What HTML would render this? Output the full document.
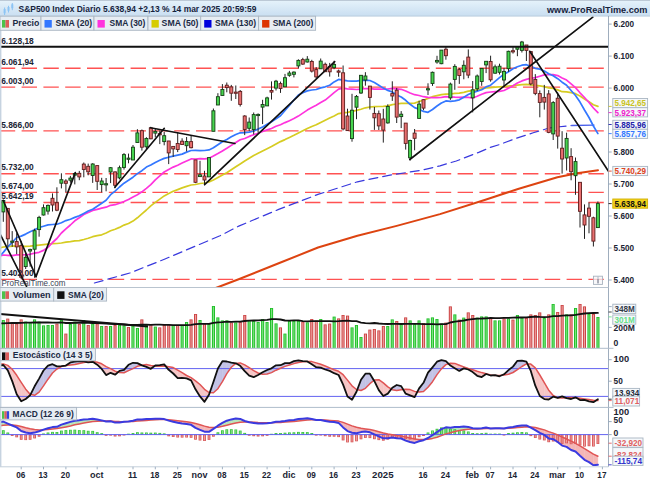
<!DOCTYPE html><html><head><meta charset="utf-8"><title>S&amp;P500</title><style>html,body{margin:0;padding:0;background:#fff;overflow:hidden}svg{display:block}text{font-family:"Liberation Sans",sans-serif}</style></head><body><svg width="650" height="483" viewBox="0 0 650 483"><rect x="0" y="0" width="650" height="483" fill="#ffffff"/>
<defs><linearGradient id="hg" x1="0" y1="0" x2="0" y2="1"><stop offset="0" stop-color="#e6f3fb"/><stop offset="1" stop-color="#c9def1"/></linearGradient><clipPath id="cp"><rect x="0" y="16.5" width="608.0" height="271.0"/></clipPath><clipPath id="cv"><rect x="0" y="301.5" width="608.0" height="46.80000000000001"/></clipPath><clipPath id="cs"><rect x="0" y="348.8" width="608.0" height="58.099999999999966"/></clipPath><clipPath id="cm"><rect x="0" y="407.9" width="608.0" height="58.400000000000034"/></clipPath></defs>
<rect x="0" y="0" width="650" height="16.2" fill="url(#hg)"/>
<rect x="0" y="15.6" width="650" height="0.9" fill="#b9cbdc"/>
<rect x="0" y="0" width="650" height="0.9" fill="#b7c5d2"/>
<g clip-path="url(#cp)">
<line x1="-0.2" y1="68.3" x2="608.5" y2="68.3" stroke="#ff5252" stroke-width="1.4" stroke-dasharray="15.4 6.4"/>
<line x1="-0.2" y1="87.1" x2="608.5" y2="87.1" stroke="#ff5252" stroke-width="1.4" stroke-dasharray="15.4 6.4"/>
<line x1="-0.2" y1="130.9" x2="608.5" y2="130.9" stroke="#ff5252" stroke-width="1.4" stroke-dasharray="15.4 6.4"/>
<line x1="-0.2" y1="173.8" x2="608.5" y2="173.8" stroke="#ff5252" stroke-width="1.4" stroke-dasharray="15.4 6.4"/>
<line x1="-0.2" y1="192.4" x2="608.5" y2="192.4" stroke="#ff5252" stroke-width="1.4" stroke-dasharray="15.4 6.4"/>
<line x1="-0.2" y1="202.5" x2="608.5" y2="202.5" stroke="#ff5252" stroke-width="1.4" stroke-dasharray="15.4 6.4"/>
<line x1="-0.2" y1="279.4" x2="608.5" y2="279.4" stroke="#ff5252" stroke-width="1.4" stroke-dasharray="15.4 6.4"/>
<polyline points="213.8,288.8 239.3,279.0 278.7,263.3 318.0,247.5 357.4,235.7 396.7,225.9 440.0,214.1 484.6,200.0 518.0,189.0 557.4,177.2 577.0,173.3 598.0,170.2" fill="none" stroke="#dd4411" stroke-width="2" stroke-linejoin="round" stroke-linecap="round" />
<polyline points="94.4,283.0 129.8,273.0 165.0,259.0 196.7,245.6 220.0,235.7 239.3,225.9 278.7,209.4 318.0,194.4 357.4,181.8 390.0,175.2 423.2,169.9 440.0,165.8 456.3,161.0 478.7,152.4 489.5,147.7 500.0,144.4 516.6,138.1 533.2,132.8 549.8,127.8 571.3,125.5" fill="none" stroke="#3838dd" stroke-width="1.2" stroke-linejoin="round" stroke-linecap="round" stroke-dasharray="9 5"/>
<line x1="571.3" y1="125.5" x2="594.5" y2="125.1" stroke="#4a60ea" stroke-width="1.4"/>
<polyline points="-1.2,248.1 3.3,247.0 7.8,246.6 12.2,246.1 16.7,245.9 21.2,246.3 25.7,246.4 30.1,246.2 34.6,245.7 39.1,245.1 43.5,244.6 48.0,244.1 52.5,243.7 56.9,243.5 61.4,243.0 65.9,242.2 70.4,241.6 74.8,240.9 79.3,240.6 83.8,239.5 88.2,238.3 92.7,236.7 97.2,235.7 101.7,234.8 106.1,233.0 110.6,230.8 115.1,229.2 119.5,227.4 124.0,225.1 128.5,223.5 133.0,221.1 137.4,217.8 141.9,213.8 146.4,210.0 150.8,205.9 155.3,202.4 159.8,199.1 164.2,195.9 168.7,193.5 173.2,191.3 177.7,189.6 182.1,187.9 186.6,186.4 191.1,185.0 195.5,184.5 200.0,183.5 204.5,183.0 209.0,181.9 213.4,180.0 217.9,177.5 222.4,175.0 226.8,172.7 231.3,169.8 235.8,166.8 240.2,164.0 244.7,161.0 249.2,158.3 253.7,155.6 258.1,153.3 262.6,151.0 267.1,148.8 271.5,146.6 276.0,144.1 280.5,141.6 285.0,139.6 289.4,137.4 293.9,135.3 298.4,133.0 302.8,130.8 307.3,128.6 311.8,126.5 316.2,124.8 320.7,122.4 325.2,120.2 329.7,118.0 334.1,115.9 338.6,113.6 343.1,112.9 347.5,112.4 352.0,111.4 356.5,110.4 361.0,109.2 365.4,107.8 369.9,107.0 374.4,106.6 378.8,106.5 383.3,106.4 387.8,105.8 392.3,104.7 396.7,104.0 401.2,103.3 405.7,103.3 410.1,103.3 414.6,103.1 419.1,101.5 423.5,100.2 428.0,98.4 432.5,96.7 437.0,95.7 441.4,94.7 445.9,94.1 450.4,94.0 454.8,93.4 459.3,93.1 463.8,92.3 468.3,91.2 472.7,90.6 477.2,89.8 481.7,88.9 486.1,88.0 490.6,87.7 495.1,87.2 499.5,86.9 504.0,86.5 508.5,86.0 513.0,85.6 517.4,85.1 521.9,84.7 526.4,84.4 530.8,84.9 535.3,85.3 539.8,85.9 544.3,86.7 548.7,87.9 553.2,88.5 557.7,89.9 562.1,91.7 566.6,91.9 571.1,92.7 575.5,93.7 580.0,96.0 584.5,99.0 589.0,101.8 593.4,104.7 597.9,106.4" fill="none" stroke="#d6cc22" stroke-width="1.7" stroke-linejoin="round" stroke-linecap="round" />
<polyline points="-1.2,256.5 3.3,255.0 7.8,255.3 12.2,255.7 16.7,254.9 21.2,254.8 25.7,254.7 30.1,254.3 34.6,253.1 39.1,252.3 43.5,250.4 48.0,247.3 52.5,242.5 56.9,238.5 61.4,233.0 65.9,228.9 70.4,225.0 74.8,220.8 79.3,217.7 83.8,214.6 88.2,212.6 92.7,210.4 97.2,209.3 101.7,208.1 106.1,207.2 110.6,205.3 115.1,204.7 119.5,203.2 124.0,201.5 128.5,199.5 133.0,197.1 137.4,194.8 141.9,191.8 146.4,188.3 150.8,184.7 155.3,179.9 159.8,175.8 164.2,172.0 168.7,169.4 173.2,167.1 177.7,165.2 182.1,163.1 186.6,161.0 191.1,158.9 195.5,159.0 200.0,158.7 204.5,158.8 209.0,158.3 213.4,156.1 217.9,153.6 222.4,150.9 226.8,148.3 231.3,145.4 235.8,142.5 240.2,139.8 244.7,138.5 249.2,136.4 253.7,134.7 258.1,133.3 262.6,131.5 267.1,129.9 271.5,128.5 276.0,126.3 280.5,124.7 285.0,122.6 289.4,120.7 293.9,118.6 298.4,116.1 302.8,113.1 307.3,110.1 311.8,107.5 316.2,105.3 320.7,102.6 325.2,100.1 329.7,96.4 334.1,92.7 338.6,89.1 343.1,88.1 347.5,88.8 352.0,89.2 356.5,89.5 361.0,89.1 365.4,88.5 369.9,88.6 374.4,89.1 378.8,89.0 383.3,89.2 387.8,89.0 392.3,88.4 396.7,88.8 401.2,89.3 405.7,91.0 410.1,93.0 414.6,94.7 419.1,95.5 423.5,96.7 428.0,97.3 432.5,97.7 437.0,97.6 441.4,97.3 445.9,96.7 450.4,97.0 454.8,97.2 459.3,97.3 463.8,97.1 468.3,97.4 472.7,98.0 477.2,96.3 481.7,94.2 486.1,92.6 490.6,92.0 495.1,91.7 499.5,91.4 504.0,90.5 508.5,88.3 513.0,85.8 517.4,83.0 521.9,80.9 526.4,79.4 530.8,78.3 535.3,77.6 539.8,76.2 544.3,74.9 548.7,74.7 553.2,74.7 557.7,75.6 562.1,77.9 566.6,80.1 571.1,83.9 575.5,87.6 580.0,92.8 584.5,97.5 589.0,102.5 593.4,108.0 597.9,112.6" fill="none" stroke="#ff33dd" stroke-width="1.7" stroke-linejoin="round" stroke-linecap="round" />
<polyline points="-1.2,257.2 3.3,252.4 7.8,246.9 12.2,242.4 16.7,237.5 21.2,236.1 25.7,234.1 30.1,231.7 34.6,229.8 39.1,227.5 43.5,226.2 48.0,224.9 52.5,224.5 56.9,224.2 61.4,222.7 65.9,220.6 70.4,219.2 74.8,217.4 79.3,215.8 83.8,213.4 88.2,211.0 92.7,209.2 97.2,206.3 101.7,203.3 106.1,200.2 110.6,194.7 115.1,191.1 119.5,187.0 124.0,183.2 128.5,180.3 133.0,177.2 137.4,173.6 141.9,170.7 146.4,167.1 150.8,165.1 155.3,162.5 159.8,160.3 164.2,158.4 168.7,157.2 173.2,156.2 177.7,155.1 182.1,154.1 186.6,152.1 191.1,150.5 195.5,150.4 200.0,150.7 204.5,150.5 209.0,149.9 213.4,147.8 217.9,144.7 222.4,141.8 226.8,139.5 231.3,136.8 235.8,134.5 240.2,132.8 244.7,132.7 249.2,132.1 253.7,131.0 258.1,129.1 262.6,126.9 267.1,124.3 271.5,121.7 276.0,118.7 280.5,115.7 285.0,110.5 289.4,105.4 293.9,100.0 298.4,95.1 302.8,92.8 307.3,90.9 311.8,90.0 316.2,89.5 320.7,87.9 325.2,86.8 329.7,85.2 334.1,81.9 338.6,79.4 343.1,80.1 347.5,80.9 352.0,81.2 356.5,81.2 361.0,80.3 365.4,80.1 369.9,80.5 374.4,82.5 378.8,85.2 383.3,88.1 387.8,90.4 392.3,92.0 396.7,94.9 401.2,97.0 405.7,100.3 410.1,104.3 414.6,107.6 419.1,109.3 423.5,111.4 428.0,112.3 432.5,109.5 437.0,106.0 441.4,103.0 445.9,100.9 450.4,101.4 454.8,100.9 459.3,99.8 463.8,97.2 468.3,94.6 472.7,92.6 477.2,91.1 481.7,89.7 486.1,86.9 490.6,85.2 495.1,81.4 499.5,77.6 504.0,74.3 508.5,71.7 513.0,68.8 517.4,66.7 521.9,65.2 526.4,64.7 530.8,66.4 535.3,68.3 539.8,69.2 544.3,71.0 548.7,73.8 553.2,75.7 557.7,78.7 562.1,82.2 566.6,85.3 571.1,90.5 575.5,95.5 580.0,102.1 584.5,110.0 589.0,117.5 593.4,126.0 597.9,133.6" fill="none" stroke="#3377ff" stroke-width="1.7" stroke-linejoin="round" stroke-linecap="round" />
<line x1="3.3" y1="199.6" x2="3.3" y2="221.8" stroke="#222" stroke-width="1"/>
<rect x="1.8" y="200.5" width="3" height="11.4" fill="#46d44e" stroke="#153f15" stroke-width="0.9"/>
<line x1="7.8" y1="208.4" x2="7.8" y2="246.6" stroke="#222" stroke-width="1"/>
<rect x="6.3" y="208.4" width="3" height="30.4" fill="#e97070" stroke="#5e1c1c" stroke-width="0.9"/>
<line x1="12.2" y1="231.1" x2="12.2" y2="246.8" stroke="#222" stroke-width="1"/>
<rect x="10.7" y="241.1" width="3" height="1.2" fill="#46d44e" stroke="#153f15" stroke-width="0.9"/>
<line x1="16.7" y1="233.2" x2="16.7" y2="254.2" stroke="#222" stroke-width="1"/>
<rect x="15.2" y="241.6" width="3" height="5.3" fill="#e97070" stroke="#5e1c1c" stroke-width="0.9"/>
<line x1="21.2" y1="240.8" x2="21.2" y2="279.2" stroke="#222" stroke-width="1"/>
<rect x="19.7" y="245.7" width="3" height="31.6" fill="#e97070" stroke="#5e1c1c" stroke-width="0.9"/>
<line x1="25.7" y1="253.1" x2="25.7" y2="269.0" stroke="#222" stroke-width="1"/>
<rect x="24.2" y="257.3" width="3" height="9.3" fill="#46d44e" stroke="#153f15" stroke-width="0.9"/>
<line x1="30.1" y1="248.7" x2="30.1" y2="266.7" stroke="#222" stroke-width="1"/>
<rect x="28.6" y="249.4" width="3" height="1.6" fill="#46d44e" stroke="#153f15" stroke-width="0.9"/>
<line x1="34.6" y1="228.7" x2="34.6" y2="277.8" stroke="#222" stroke-width="1"/>
<rect x="33.1" y="230.7" width="3" height="18.5" fill="#46d44e" stroke="#153f15" stroke-width="0.9"/>
<line x1="39.1" y1="215.8" x2="39.1" y2="236.7" stroke="#222" stroke-width="1"/>
<rect x="37.6" y="217.4" width="3" height="12.2" fill="#46d44e" stroke="#153f15" stroke-width="0.9"/>
<line x1="43.5" y1="204.4" x2="43.5" y2="215.5" stroke="#222" stroke-width="1"/>
<rect x="42.0" y="207.7" width="3" height="7.3" fill="#46d44e" stroke="#153f15" stroke-width="0.9"/>
<line x1="48.0" y1="204.5" x2="48.0" y2="214.6" stroke="#222" stroke-width="1"/>
<rect x="46.5" y="205.4" width="3" height="5.7" fill="#46d44e" stroke="#153f15" stroke-width="0.9"/>
<line x1="52.5" y1="193.4" x2="52.5" y2="211.5" stroke="#222" stroke-width="1"/>
<rect x="51.0" y="198.3" width="3" height="6.7" fill="#e97070" stroke="#5e1c1c" stroke-width="0.9"/>
<line x1="56.9" y1="187.3" x2="56.9" y2="211.2" stroke="#222" stroke-width="1"/>
<rect x="55.4" y="202.7" width="3" height="7.5" fill="#e97070" stroke="#5e1c1c" stroke-width="0.9"/>
<line x1="61.4" y1="173.3" x2="61.4" y2="188.4" stroke="#222" stroke-width="1"/>
<rect x="59.9" y="179.7" width="3" height="3.5" fill="#46d44e" stroke="#153f15" stroke-width="0.9"/>
<line x1="65.9" y1="179.2" x2="65.9" y2="192.2" stroke="#222" stroke-width="1"/>
<rect x="64.4" y="181.0" width="3" height="2.3" fill="#e97070" stroke="#5e1c1c" stroke-width="0.9"/>
<line x1="70.4" y1="175.9" x2="70.4" y2="182.7" stroke="#222" stroke-width="1"/>
<rect x="68.9" y="178.1" width="3" height="2.1" fill="#46d44e" stroke="#153f15" stroke-width="0.9"/>
<line x1="74.8" y1="172.7" x2="74.8" y2="184.4" stroke="#222" stroke-width="1"/>
<rect x="73.3" y="173.5" width="3" height="1.7" fill="#46d44e" stroke="#153f15" stroke-width="0.9"/>
<line x1="79.3" y1="170.9" x2="79.3" y2="180.2" stroke="#222" stroke-width="1"/>
<rect x="77.8" y="173.3" width="3" height="3.6" fill="#e97070" stroke="#5e1c1c" stroke-width="0.9"/>
<line x1="83.8" y1="162.5" x2="83.8" y2="177.3" stroke="#222" stroke-width="1"/>
<rect x="82.3" y="164.1" width="3" height="5.4" fill="#e97070" stroke="#5e1c1c" stroke-width="0.9"/>
<line x1="88.2" y1="163.6" x2="88.2" y2="175.3" stroke="#222" stroke-width="1"/>
<rect x="86.7" y="166.3" width="3" height="5.5" fill="#e97070" stroke="#5e1c1c" stroke-width="0.9"/>
<line x1="92.7" y1="163.2" x2="92.7" y2="182.9" stroke="#222" stroke-width="1"/>
<rect x="91.2" y="164.0" width="3" height="11.5" fill="#46d44e" stroke="#153f15" stroke-width="0.9"/>
<line x1="97.2" y1="165.6" x2="97.2" y2="190.0" stroke="#222" stroke-width="1"/>
<rect x="95.7" y="165.6" width="3" height="15.7" fill="#e97070" stroke="#5e1c1c" stroke-width="0.9"/>
<line x1="101.7" y1="177.8" x2="101.7" y2="192.4" stroke="#222" stroke-width="1"/>
<rect x="100.2" y="181.0" width="3" height="3.6" fill="#46d44e" stroke="#153f15" stroke-width="0.9"/>
<line x1="106.1" y1="178.0" x2="106.1" y2="191.3" stroke="#222" stroke-width="1"/>
<rect x="104.6" y="183.7" width="3" height="1.2" fill="#46d44e" stroke="#153f15" stroke-width="0.9"/>
<line x1="110.6" y1="167.0" x2="110.6" y2="183.1" stroke="#222" stroke-width="1"/>
<rect x="109.1" y="167.7" width="3" height="4.3" fill="#46d44e" stroke="#153f15" stroke-width="0.9"/>
<line x1="115.1" y1="171.4" x2="115.1" y2="188.2" stroke="#222" stroke-width="1"/>
<rect x="113.6" y="171.9" width="3" height="13.4" fill="#e97070" stroke="#5e1c1c" stroke-width="0.9"/>
<line x1="119.5" y1="165.6" x2="119.5" y2="179.4" stroke="#222" stroke-width="1"/>
<rect x="118.0" y="167.7" width="3" height="10.2" fill="#46d44e" stroke="#153f15" stroke-width="0.9"/>
<line x1="124.0" y1="153.1" x2="124.0" y2="169.6" stroke="#222" stroke-width="1"/>
<rect x="122.5" y="154.6" width="3" height="12.9" fill="#46d44e" stroke="#153f15" stroke-width="0.9"/>
<line x1="128.5" y1="153.6" x2="128.5" y2="163.3" stroke="#222" stroke-width="1"/>
<rect x="127.0" y="158.1" width="3" height="1.2" fill="#46d44e" stroke="#153f15" stroke-width="0.9"/>
<line x1="133.0" y1="145.0" x2="133.0" y2="160.0" stroke="#222" stroke-width="1"/>
<rect x="131.5" y="147.2" width="3" height="12.8" fill="#46d44e" stroke="#153f15" stroke-width="0.9"/>
<line x1="137.4" y1="129.2" x2="137.4" y2="142.6" stroke="#222" stroke-width="1"/>
<rect x="135.9" y="132.9" width="3" height="9.6" fill="#46d44e" stroke="#153f15" stroke-width="0.9"/>
<line x1="141.9" y1="129.5" x2="141.9" y2="150.6" stroke="#222" stroke-width="1"/>
<rect x="140.4" y="130.7" width="3" height="16.5" fill="#e97070" stroke="#5e1c1c" stroke-width="0.9"/>
<line x1="146.4" y1="137.2" x2="146.4" y2="149.4" stroke="#222" stroke-width="1"/>
<rect x="144.9" y="138.5" width="3" height="8.3" fill="#46d44e" stroke="#153f15" stroke-width="0.9"/>
<line x1="150.8" y1="126.9" x2="150.8" y2="139.2" stroke="#222" stroke-width="1"/>
<rect x="149.3" y="127.9" width="3" height="10.9" fill="#e97070" stroke="#5e1c1c" stroke-width="0.9"/>
<line x1="155.3" y1="129.0" x2="155.3" y2="137.3" stroke="#222" stroke-width="1"/>
<rect x="153.8" y="131.4" width="3" height="1.7" fill="#46d44e" stroke="#153f15" stroke-width="0.9"/>
<line x1="159.8" y1="130.6" x2="159.8" y2="144.1" stroke="#222" stroke-width="1"/>
<rect x="158.3" y="133.6" width="3" height="1.2" fill="#e97070" stroke="#5e1c1c" stroke-width="0.9"/>
<line x1="164.2" y1="131.9" x2="164.2" y2="145.3" stroke="#222" stroke-width="1"/>
<rect x="162.7" y="135.7" width="3" height="5.9" fill="#46d44e" stroke="#153f15" stroke-width="0.9"/>
<line x1="168.7" y1="140.9" x2="168.7" y2="164.1" stroke="#222" stroke-width="1"/>
<rect x="167.2" y="141.0" width="3" height="11.9" fill="#e97070" stroke="#5e1c1c" stroke-width="0.9"/>
<line x1="173.2" y1="146.4" x2="173.2" y2="156.9" stroke="#222" stroke-width="1"/>
<rect x="171.7" y="146.4" width="3" height="2.5" fill="#e97070" stroke="#5e1c1c" stroke-width="0.9"/>
<line x1="177.7" y1="132.0" x2="177.7" y2="152.1" stroke="#222" stroke-width="1"/>
<rect x="176.2" y="143.5" width="3" height="6.0" fill="#e97070" stroke="#5e1c1c" stroke-width="0.9"/>
<line x1="182.1" y1="138.3" x2="182.1" y2="144.7" stroke="#222" stroke-width="1"/>
<rect x="180.6" y="141.2" width="3" height="3.3" fill="#e97070" stroke="#5e1c1c" stroke-width="0.9"/>
<line x1="186.6" y1="137.0" x2="186.6" y2="151.4" stroke="#222" stroke-width="1"/>
<rect x="185.1" y="141.5" width="3" height="4.2" fill="#46d44e" stroke="#153f15" stroke-width="0.9"/>
<line x1="191.1" y1="135.8" x2="191.1" y2="148.4" stroke="#222" stroke-width="1"/>
<rect x="189.6" y="141.6" width="3" height="6.1" fill="#e97070" stroke="#5e1c1c" stroke-width="0.9"/>
<line x1="195.5" y1="159.9" x2="195.5" y2="183.1" stroke="#222" stroke-width="1"/>
<rect x="194.0" y="159.9" width="3" height="22.4" fill="#e97070" stroke="#5e1c1c" stroke-width="0.9"/>
<line x1="200.0" y1="160.8" x2="200.0" y2="176.6" stroke="#222" stroke-width="1"/>
<rect x="198.5" y="174.8" width="3" height="1.8" fill="#46d44e" stroke="#153f15" stroke-width="0.9"/>
<line x1="204.5" y1="170.8" x2="204.5" y2="185.2" stroke="#222" stroke-width="1"/>
<rect x="203.0" y="176.0" width="3" height="4.0" fill="#e97070" stroke="#5e1c1c" stroke-width="0.9"/>
<line x1="209.0" y1="157.3" x2="209.0" y2="177.0" stroke="#222" stroke-width="1"/>
<rect x="207.5" y="157.6" width="3" height="19.3" fill="#46d44e" stroke="#153f15" stroke-width="0.9"/>
<line x1="213.4" y1="108.5" x2="213.4" y2="131.3" stroke="#222" stroke-width="1"/>
<rect x="211.9" y="110.8" width="3" height="20.5" fill="#46d44e" stroke="#153f15" stroke-width="0.9"/>
<line x1="217.9" y1="93.2" x2="217.9" y2="105.0" stroke="#222" stroke-width="1"/>
<rect x="216.4" y="96.7" width="3" height="8.3" fill="#46d44e" stroke="#153f15" stroke-width="0.9"/>
<line x1="222.4" y1="84.1" x2="222.4" y2="95.5" stroke="#222" stroke-width="1"/>
<rect x="220.9" y="89.5" width="3" height="6.0" fill="#46d44e" stroke="#153f15" stroke-width="0.9"/>
<line x1="226.8" y1="82.5" x2="226.8" y2="92.3" stroke="#222" stroke-width="1"/>
<rect x="225.3" y="85.2" width="3" height="2.4" fill="#e97070" stroke="#5e1c1c" stroke-width="0.9"/>
<line x1="231.3" y1="84.9" x2="231.3" y2="100.8" stroke="#222" stroke-width="1"/>
<rect x="229.8" y="86.9" width="3" height="6.3" fill="#e97070" stroke="#5e1c1c" stroke-width="0.9"/>
<line x1="235.8" y1="85.5" x2="235.8" y2="99.0" stroke="#222" stroke-width="1"/>
<rect x="234.3" y="92.1" width="3" height="1.2" fill="#e97070" stroke="#5e1c1c" stroke-width="0.9"/>
<line x1="240.2" y1="90.0" x2="240.2" y2="106.5" stroke="#222" stroke-width="1"/>
<rect x="238.7" y="91.4" width="3" height="13.0" fill="#e97070" stroke="#5e1c1c" stroke-width="0.9"/>
<line x1="244.7" y1="115.2" x2="244.7" y2="135.1" stroke="#222" stroke-width="1"/>
<rect x="243.2" y="116.0" width="3" height="13.5" fill="#e97070" stroke="#5e1c1c" stroke-width="0.9"/>
<line x1="249.2" y1="117.5" x2="249.2" y2="130.9" stroke="#222" stroke-width="1"/>
<rect x="247.7" y="122.1" width="3" height="6.2" fill="#46d44e" stroke="#153f15" stroke-width="0.9"/>
<line x1="253.7" y1="112.5" x2="253.7" y2="134.4" stroke="#222" stroke-width="1"/>
<rect x="252.2" y="114.6" width="3" height="15.0" fill="#46d44e" stroke="#153f15" stroke-width="0.9"/>
<line x1="258.1" y1="113.4" x2="258.1" y2="132.7" stroke="#222" stroke-width="1"/>
<rect x="256.6" y="114.4" width="3" height="1.2" fill="#46d44e" stroke="#153f15" stroke-width="0.9"/>
<line x1="262.6" y1="99.8" x2="262.6" y2="124.1" stroke="#222" stroke-width="1"/>
<rect x="261.1" y="104.5" width="3" height="2.6" fill="#46d44e" stroke="#153f15" stroke-width="0.9"/>
<line x1="267.1" y1="96.7" x2="267.1" y2="105.9" stroke="#222" stroke-width="1"/>
<rect x="265.6" y="97.9" width="3" height="8.0" fill="#46d44e" stroke="#153f15" stroke-width="0.9"/>
<line x1="271.5" y1="81.4" x2="271.5" y2="99.6" stroke="#222" stroke-width="1"/>
<rect x="270.0" y="90.5" width="3" height="1.6" fill="#e97070" stroke="#5e1c1c" stroke-width="0.9"/>
<line x1="276.0" y1="79.9" x2="276.0" y2="90.5" stroke="#222" stroke-width="1"/>
<rect x="274.5" y="81.2" width="3" height="6.9" fill="#46d44e" stroke="#153f15" stroke-width="0.9"/>
<line x1="280.5" y1="81.6" x2="280.5" y2="92.9" stroke="#222" stroke-width="1"/>
<rect x="279.0" y="83.6" width="3" height="4.9" fill="#e97070" stroke="#5e1c1c" stroke-width="0.9"/>
<line x1="285.0" y1="73.9" x2="285.0" y2="86.8" stroke="#222" stroke-width="1"/>
<rect x="283.5" y="77.7" width="3" height="9.1" fill="#46d44e" stroke="#153f15" stroke-width="0.9"/>
<line x1="289.4" y1="70.9" x2="289.4" y2="76.8" stroke="#222" stroke-width="1"/>
<rect x="287.9" y="73.0" width="3" height="2.3" fill="#46d44e" stroke="#153f15" stroke-width="0.9"/>
<line x1="293.9" y1="71.4" x2="293.9" y2="77.4" stroke="#222" stroke-width="1"/>
<rect x="292.4" y="72.1" width="3" height="2.2" fill="#46d44e" stroke="#153f15" stroke-width="0.9"/>
<line x1="298.4" y1="59.3" x2="298.4" y2="68.5" stroke="#222" stroke-width="1"/>
<rect x="296.9" y="60.4" width="3" height="5.5" fill="#46d44e" stroke="#153f15" stroke-width="0.9"/>
<line x1="302.8" y1="57.8" x2="302.8" y2="64.8" stroke="#222" stroke-width="1"/>
<rect x="301.3" y="59.6" width="3" height="4.5" fill="#e97070" stroke="#5e1c1c" stroke-width="0.9"/>
<line x1="307.3" y1="56.1" x2="307.3" y2="62.5" stroke="#222" stroke-width="1"/>
<rect x="305.8" y="59.2" width="3" height="2.8" fill="#46d44e" stroke="#153f15" stroke-width="0.9"/>
<line x1="311.8" y1="59.8" x2="311.8" y2="72.5" stroke="#222" stroke-width="1"/>
<rect x="310.3" y="61.5" width="3" height="9.6" fill="#e97070" stroke="#5e1c1c" stroke-width="0.9"/>
<line x1="316.2" y1="67.1" x2="316.2" y2="78.5" stroke="#222" stroke-width="1"/>
<rect x="314.7" y="69.6" width="3" height="7.3" fill="#e97070" stroke="#5e1c1c" stroke-width="0.9"/>
<line x1="320.7" y1="58.5" x2="320.7" y2="68.8" stroke="#222" stroke-width="1"/>
<rect x="319.2" y="61.1" width="3" height="7.7" fill="#46d44e" stroke="#153f15" stroke-width="0.9"/>
<line x1="325.2" y1="62.6" x2="325.2" y2="71.7" stroke="#222" stroke-width="1"/>
<rect x="323.7" y="64.3" width="3" height="7.4" fill="#e97070" stroke="#5e1c1c" stroke-width="0.9"/>
<line x1="329.7" y1="62.9" x2="329.7" y2="76.6" stroke="#222" stroke-width="1"/>
<rect x="328.2" y="66.3" width="3" height="5.5" fill="#e97070" stroke="#5e1c1c" stroke-width="0.9"/>
<line x1="334.1" y1="60.8" x2="334.1" y2="69.2" stroke="#222" stroke-width="1"/>
<rect x="332.6" y="64.4" width="3" height="3.3" fill="#46d44e" stroke="#153f15" stroke-width="0.9"/>
<line x1="338.6" y1="69.6" x2="338.6" y2="76.8" stroke="#222" stroke-width="1"/>
<rect x="337.1" y="71.0" width="3" height="1.2" fill="#e97070" stroke="#5e1c1c" stroke-width="0.9"/>
<line x1="343.1" y1="65.5" x2="343.1" y2="130.4" stroke="#222" stroke-width="1"/>
<rect x="341.6" y="72.8" width="3" height="56.1" fill="#e97070" stroke="#5e1c1c" stroke-width="0.9"/>
<line x1="347.5" y1="108.7" x2="347.5" y2="130.9" stroke="#222" stroke-width="1"/>
<rect x="346.0" y="116.0" width="3" height="14.6" fill="#e97070" stroke="#5e1c1c" stroke-width="0.9"/>
<line x1="352.0" y1="93.8" x2="352.0" y2="141.7" stroke="#222" stroke-width="1"/>
<rect x="350.5" y="110.2" width="3" height="28.4" fill="#46d44e" stroke="#153f15" stroke-width="0.9"/>
<line x1="356.5" y1="95.0" x2="356.5" y2="119.2" stroke="#222" stroke-width="1"/>
<rect x="355.0" y="96.4" width="3" height="10.8" fill="#46d44e" stroke="#153f15" stroke-width="0.9"/>
<line x1="361.0" y1="75.2" x2="361.0" y2="94.0" stroke="#222" stroke-width="1"/>
<rect x="359.5" y="75.3" width="3" height="17.7" fill="#46d44e" stroke="#153f15" stroke-width="0.9"/>
<line x1="365.4" y1="72.2" x2="365.4" y2="85.7" stroke="#222" stroke-width="1"/>
<rect x="363.9" y="76.0" width="3" height="4.0" fill="#46d44e" stroke="#153f15" stroke-width="0.9"/>
<line x1="369.9" y1="86.1" x2="369.9" y2="109.5" stroke="#222" stroke-width="1"/>
<rect x="368.4" y="86.1" width="3" height="11.3" fill="#e97070" stroke="#5e1c1c" stroke-width="0.9"/>
<line x1="374.4" y1="107.0" x2="374.4" y2="129.9" stroke="#222" stroke-width="1"/>
<rect x="372.9" y="113.4" width="3" height="4.4" fill="#e97070" stroke="#5e1c1c" stroke-width="0.9"/>
<line x1="378.8" y1="110.5" x2="378.8" y2="130.0" stroke="#222" stroke-width="1"/>
<rect x="377.3" y="113.7" width="3" height="12.2" fill="#e97070" stroke="#5e1c1c" stroke-width="0.9"/>
<line x1="383.3" y1="108.8" x2="383.3" y2="142.6" stroke="#222" stroke-width="1"/>
<rect x="381.8" y="119.0" width="3" height="11.1" fill="#e97070" stroke="#5e1c1c" stroke-width="0.9"/>
<line x1="387.8" y1="104.3" x2="387.8" y2="123.7" stroke="#222" stroke-width="1"/>
<rect x="386.3" y="106.5" width="3" height="16.4" fill="#46d44e" stroke="#153f15" stroke-width="0.9"/>
<line x1="392.3" y1="81.3" x2="392.3" y2="100.9" stroke="#222" stroke-width="1"/>
<rect x="390.8" y="93.6" width="3" height="2.4" fill="#e97070" stroke="#5e1c1c" stroke-width="0.9"/>
<line x1="396.7" y1="87.9" x2="396.7" y2="123.0" stroke="#222" stroke-width="1"/>
<rect x="395.2" y="90.2" width="3" height="26.9" fill="#e97070" stroke="#5e1c1c" stroke-width="0.9"/>
<line x1="401.2" y1="111.1" x2="401.2" y2="128.1" stroke="#222" stroke-width="1"/>
<rect x="399.7" y="114.2" width="3" height="2.4" fill="#46d44e" stroke="#153f15" stroke-width="0.9"/>
<line x1="405.7" y1="123.1" x2="405.7" y2="149.6" stroke="#222" stroke-width="1"/>
<rect x="404.2" y="123.1" width="3" height="20.3" fill="#e97070" stroke="#5e1c1c" stroke-width="0.9"/>
<line x1="410.1" y1="139.7" x2="410.1" y2="160.6" stroke="#222" stroke-width="1"/>
<rect x="408.6" y="140.5" width="3" height="17.3" fill="#46d44e" stroke="#153f15" stroke-width="0.9"/>
<line x1="414.6" y1="129.0" x2="414.6" y2="150.3" stroke="#222" stroke-width="1"/>
<rect x="413.1" y="133.1" width="3" height="5.2" fill="#e97070" stroke="#5e1c1c" stroke-width="0.9"/>
<line x1="419.1" y1="100.7" x2="419.1" y2="118.4" stroke="#222" stroke-width="1"/>
<rect x="417.6" y="104.1" width="3" height="14.3" fill="#46d44e" stroke="#153f15" stroke-width="0.9"/>
<line x1="423.5" y1="99.4" x2="423.5" y2="110.2" stroke="#222" stroke-width="1"/>
<rect x="422.0" y="99.7" width="3" height="8.4" fill="#e97070" stroke="#5e1c1c" stroke-width="0.9"/>
<line x1="428.0" y1="83.3" x2="428.0" y2="95.0" stroke="#222" stroke-width="1"/>
<rect x="426.5" y="88.7" width="3" height="1.2" fill="#46d44e" stroke="#153f15" stroke-width="0.9"/>
<line x1="432.5" y1="71.6" x2="432.5" y2="85.9" stroke="#222" stroke-width="1"/>
<rect x="431.0" y="72.3" width="3" height="11.2" fill="#46d44e" stroke="#153f15" stroke-width="0.9"/>
<line x1="437.0" y1="55.8" x2="437.0" y2="63.7" stroke="#222" stroke-width="1"/>
<rect x="435.5" y="60.4" width="3" height="1.6" fill="#46d44e" stroke="#153f15" stroke-width="0.9"/>
<line x1="441.4" y1="50.1" x2="441.4" y2="64.2" stroke="#222" stroke-width="1"/>
<rect x="439.9" y="50.1" width="3" height="13.6" fill="#46d44e" stroke="#153f15" stroke-width="0.9"/>
<line x1="445.9" y1="47.1" x2="445.9" y2="59.7" stroke="#222" stroke-width="1"/>
<rect x="444.4" y="49.2" width="3" height="6.5" fill="#e97070" stroke="#5e1c1c" stroke-width="0.9"/>
<line x1="450.4" y1="82.6" x2="450.4" y2="99.9" stroke="#222" stroke-width="1"/>
<rect x="448.9" y="84.1" width="3" height="13.8" fill="#46d44e" stroke="#153f15" stroke-width="0.9"/>
<line x1="454.8" y1="64.2" x2="454.8" y2="89.8" stroke="#222" stroke-width="1"/>
<rect x="453.3" y="66.4" width="3" height="13.0" fill="#46d44e" stroke="#153f15" stroke-width="0.9"/>
<line x1="459.3" y1="68.0" x2="459.3" y2="83.9" stroke="#222" stroke-width="1"/>
<rect x="457.8" y="69.6" width="3" height="5.9" fill="#e97070" stroke="#5e1c1c" stroke-width="0.9"/>
<line x1="463.8" y1="60.4" x2="463.8" y2="79.3" stroke="#222" stroke-width="1"/>
<rect x="462.3" y="65.3" width="3" height="6.5" fill="#46d44e" stroke="#153f15" stroke-width="0.9"/>
<line x1="468.3" y1="49.4" x2="468.3" y2="78.2" stroke="#222" stroke-width="1"/>
<rect x="466.8" y="57.1" width="3" height="18.0" fill="#e97070" stroke="#5e1c1c" stroke-width="0.9"/>
<line x1="472.7" y1="81.0" x2="472.7" y2="112.4" stroke="#222" stroke-width="1"/>
<rect x="471.2" y="89.8" width="3" height="8.0" fill="#46d44e" stroke="#153f15" stroke-width="0.9"/>
<line x1="477.2" y1="74.5" x2="477.2" y2="91.0" stroke="#222" stroke-width="1"/>
<rect x="475.7" y="76.0" width="3" height="12.7" fill="#46d44e" stroke="#153f15" stroke-width="0.9"/>
<line x1="481.7" y1="68.0" x2="481.7" y2="85.8" stroke="#222" stroke-width="1"/>
<rect x="480.2" y="68.4" width="3" height="13.1" fill="#46d44e" stroke="#153f15" stroke-width="0.9"/>
<line x1="486.1" y1="61.2" x2="486.1" y2="73.1" stroke="#222" stroke-width="1"/>
<rect x="484.6" y="61.3" width="3" height="3.6" fill="#46d44e" stroke="#153f15" stroke-width="0.9"/>
<line x1="490.6" y1="55.7" x2="490.6" y2="81.7" stroke="#222" stroke-width="1"/>
<rect x="489.1" y="61.5" width="3" height="18.3" fill="#e97070" stroke="#5e1c1c" stroke-width="0.9"/>
<line x1="495.1" y1="64.6" x2="495.1" y2="73.7" stroke="#222" stroke-width="1"/>
<rect x="493.6" y="66.8" width="3" height="6.4" fill="#46d44e" stroke="#153f15" stroke-width="0.9"/>
<line x1="499.5" y1="63.7" x2="499.5" y2="74.5" stroke="#222" stroke-width="1"/>
<rect x="498.0" y="66.2" width="3" height="6.1" fill="#46d44e" stroke="#153f15" stroke-width="0.9"/>
<line x1="504.0" y1="67.9" x2="504.0" y2="87.1" stroke="#222" stroke-width="1"/>
<rect x="502.5" y="71.4" width="3" height="8.6" fill="#46d44e" stroke="#153f15" stroke-width="0.9"/>
<line x1="508.5" y1="50.7" x2="508.5" y2="71.8" stroke="#222" stroke-width="1"/>
<rect x="507.0" y="51.3" width="3" height="17.4" fill="#46d44e" stroke="#153f15" stroke-width="0.9"/>
<line x1="513.0" y1="47.3" x2="513.0" y2="53.6" stroke="#222" stroke-width="1"/>
<rect x="511.5" y="50.7" width="3" height="1.2" fill="#e97070" stroke="#5e1c1c" stroke-width="0.9"/>
<line x1="517.4" y1="46.6" x2="517.4" y2="56.2" stroke="#222" stroke-width="1"/>
<rect x="515.9" y="46.6" width="3" height="2.6" fill="#46d44e" stroke="#153f15" stroke-width="0.9"/>
<line x1="521.9" y1="40.9" x2="521.9" y2="52.5" stroke="#222" stroke-width="1"/>
<rect x="520.4" y="42.0" width="3" height="8.4" fill="#46d44e" stroke="#153f15" stroke-width="0.9"/>
<line x1="526.4" y1="45.0" x2="526.4" y2="61.0" stroke="#222" stroke-width="1"/>
<rect x="524.9" y="45.0" width="3" height="5.4" fill="#e97070" stroke="#5e1c1c" stroke-width="0.9"/>
<line x1="530.8" y1="51.3" x2="530.8" y2="85.3" stroke="#222" stroke-width="1"/>
<rect x="529.3" y="51.6" width="3" height="32.3" fill="#e97070" stroke="#5e1c1c" stroke-width="0.9"/>
<line x1="535.3" y1="74.1" x2="535.3" y2="95.2" stroke="#222" stroke-width="1"/>
<rect x="533.8" y="79.5" width="3" height="13.9" fill="#e97070" stroke="#5e1c1c" stroke-width="0.9"/>
<line x1="539.8" y1="90.4" x2="539.8" y2="117.3" stroke="#222" stroke-width="1"/>
<rect x="538.3" y="93.6" width="3" height="8.8" fill="#e97070" stroke="#5e1c1c" stroke-width="0.9"/>
<line x1="544.3" y1="84.9" x2="544.3" y2="109.6" stroke="#222" stroke-width="1"/>
<rect x="542.8" y="97.4" width="3" height="4.7" fill="#e97070" stroke="#5e1c1c" stroke-width="0.9"/>
<line x1="548.7" y1="90.1" x2="548.7" y2="133.2" stroke="#222" stroke-width="1"/>
<rect x="547.2" y="93.9" width="3" height="38.5" fill="#e97070" stroke="#5e1c1c" stroke-width="0.9"/>
<line x1="553.2" y1="101.1" x2="553.2" y2="140.0" stroke="#222" stroke-width="1"/>
<rect x="551.7" y="102.6" width="3" height="31.3" fill="#46d44e" stroke="#153f15" stroke-width="0.9"/>
<line x1="557.7" y1="92.5" x2="557.7" y2="148.6" stroke="#222" stroke-width="1"/>
<rect x="556.2" y="98.2" width="3" height="37.9" fill="#e97070" stroke="#5e1c1c" stroke-width="0.9"/>
<line x1="562.1" y1="131.2" x2="562.1" y2="173.6" stroke="#222" stroke-width="1"/>
<rect x="560.6" y="148.2" width="3" height="10.8" fill="#e97070" stroke="#5e1c1c" stroke-width="0.9"/>
<line x1="566.6" y1="132.7" x2="566.6" y2="170.5" stroke="#222" stroke-width="1"/>
<rect x="565.1" y="138.4" width="3" height="19.6" fill="#46d44e" stroke="#153f15" stroke-width="0.9"/>
<line x1="571.1" y1="148.2" x2="571.1" y2="180.3" stroke="#222" stroke-width="1"/>
<rect x="569.6" y="156.6" width="3" height="15.1" fill="#e97070" stroke="#5e1c1c" stroke-width="0.9"/>
<line x1="575.5" y1="157.5" x2="575.5" y2="194.8" stroke="#222" stroke-width="1"/>
<rect x="574.0" y="161.6" width="3" height="14.1" fill="#46d44e" stroke="#153f15" stroke-width="0.9"/>
<line x1="580.0" y1="182.3" x2="580.0" y2="227.5" stroke="#222" stroke-width="1"/>
<rect x="578.5" y="182.3" width="3" height="29.0" fill="#e97070" stroke="#5e1c1c" stroke-width="0.9"/>
<line x1="584.5" y1="204.4" x2="584.5" y2="238.9" stroke="#222" stroke-width="1"/>
<rect x="583.0" y="214.9" width="3" height="10.1" fill="#e97070" stroke="#5e1c1c" stroke-width="0.9"/>
<line x1="589.0" y1="202.5" x2="589.0" y2="233.3" stroke="#222" stroke-width="1"/>
<rect x="587.5" y="208.1" width="3" height="8.2" fill="#e97070" stroke="#5e1c1c" stroke-width="0.9"/>
<line x1="593.4" y1="216.7" x2="593.4" y2="246.5" stroke="#222" stroke-width="1"/>
<rect x="591.9" y="217.8" width="3" height="23.3" fill="#e97070" stroke="#5e1c1c" stroke-width="0.9"/>
<line x1="597.9" y1="201.5" x2="597.9" y2="227.6" stroke="#222" stroke-width="1"/>
<rect x="596.4" y="203.6" width="3" height="24.0" fill="#46d44e" stroke="#153f15" stroke-width="0.9"/>
<line x1="0" y1="46.8" x2="608.5" y2="46.8" stroke="#111" stroke-width="2"/>
<line x1="0" y1="233.8" x2="26.5" y2="286.4" stroke="#111" stroke-width="1.65" stroke-linecap="round"/>
<line x1="3.2" y1="200.5" x2="36.0" y2="276.6" stroke="#111" stroke-width="1.65" stroke-linecap="round"/>
<line x1="36.0" y1="276.6" x2="75.3" y2="172.6" stroke="#111" stroke-width="1.65" stroke-linecap="round"/>
<line x1="114.9" y1="187.3" x2="164.3" y2="128.3" stroke="#111" stroke-width="1.65" stroke-linecap="round"/>
<line x1="150.3" y1="127.7" x2="234.9" y2="143.5" stroke="#111" stroke-width="1.65" stroke-linecap="round"/>
<line x1="204.6" y1="184.6" x2="334.7" y2="61.6" stroke="#111" stroke-width="1.65" stroke-linecap="round"/>
<line x1="409.8" y1="159.5" x2="592.8" y2="17.1" stroke="#111" stroke-width="1.65" stroke-linecap="round"/>
<line x1="529.8" y1="51.3" x2="608.5" y2="171.3" stroke="#111" stroke-width="1.65" stroke-linecap="round"/>
</g>
<text x="1.2" y="43.7" font-family="Liberation Sans, sans-serif" font-weight="bold" font-size="9px" fill="#1b2433" text-anchor="start" textLength="32.6" lengthAdjust="spacingAndGlyphs">6.128,18</text>
<text x="1.2" y="64.9" font-family="Liberation Sans, sans-serif" font-weight="bold" font-size="9px" fill="#1b2433" text-anchor="start" textLength="32.6" lengthAdjust="spacingAndGlyphs">6.061,94</text>
<text x="1.2" y="83.7" font-family="Liberation Sans, sans-serif" font-weight="bold" font-size="9px" fill="#1b2433" text-anchor="start" textLength="32.6" lengthAdjust="spacingAndGlyphs">6.003,00</text>
<text x="1.2" y="127.5" font-family="Liberation Sans, sans-serif" font-weight="bold" font-size="9px" fill="#1b2433" text-anchor="start" textLength="32.6" lengthAdjust="spacingAndGlyphs">5.866,00</text>
<text x="1.2" y="170.4" font-family="Liberation Sans, sans-serif" font-weight="bold" font-size="9px" fill="#1b2433" text-anchor="start" textLength="32.6" lengthAdjust="spacingAndGlyphs">5.732,00</text>
<text x="1.2" y="189.0" font-family="Liberation Sans, sans-serif" font-weight="bold" font-size="9px" fill="#1b2433" text-anchor="start" textLength="32.6" lengthAdjust="spacingAndGlyphs">5.674,00</text>
<text x="1.2" y="199.1" font-family="Liberation Sans, sans-serif" font-weight="bold" font-size="9px" fill="#1b2433" text-anchor="start" textLength="32.6" lengthAdjust="spacingAndGlyphs">5.642,19</text>
<text x="1.2" y="276.0" font-family="Liberation Sans, sans-serif" font-weight="bold" font-size="9px" fill="#1b2433" text-anchor="start" textLength="32.6" lengthAdjust="spacingAndGlyphs">5.402,00</text>
<text x="1.5" y="285.6" font-family="Liberation Sans, sans-serif" font-weight="normal" font-size="9px" fill="#3a4456" text-anchor="start" textLength="64.0" lengthAdjust="spacingAndGlyphs">ProRealTime.com</text>
<g clip-path="url(#cv)">
<rect x="1.7" y="320.0" width="3.1" height="28.3" fill="#22c02a"/>
<rect x="2.8" y="320.8" width="1.1" height="28.3" fill="#7be37f"/>
<rect x="6.2" y="318.6" width="3.1" height="29.7" fill="#cc4444"/>
<rect x="7.2" y="319.4" width="1.1" height="29.7" fill="#eea0a0"/>
<rect x="10.7" y="322.4" width="3.1" height="25.9" fill="#cc4444"/>
<rect x="11.7" y="323.2" width="1.1" height="25.9" fill="#eea0a0"/>
<rect x="15.2" y="323.6" width="3.1" height="24.7" fill="#cc4444"/>
<rect x="16.2" y="324.4" width="1.1" height="24.7" fill="#eea0a0"/>
<rect x="19.6" y="319.4" width="3.1" height="28.9" fill="#cc4444"/>
<rect x="20.6" y="320.2" width="1.1" height="28.9" fill="#eea0a0"/>
<rect x="24.1" y="321.6" width="3.1" height="26.7" fill="#22c02a"/>
<rect x="25.1" y="322.4" width="1.1" height="26.7" fill="#7be37f"/>
<rect x="28.6" y="322.4" width="3.1" height="25.9" fill="#22c02a"/>
<rect x="29.6" y="323.2" width="1.1" height="25.9" fill="#7be37f"/>
<rect x="33.0" y="319.4" width="3.1" height="28.9" fill="#22c02a"/>
<rect x="34.0" y="320.2" width="1.1" height="28.9" fill="#7be37f"/>
<rect x="37.5" y="321.6" width="3.1" height="26.7" fill="#22c02a"/>
<rect x="38.5" y="322.4" width="1.1" height="26.7" fill="#7be37f"/>
<rect x="42.0" y="325.4" width="3.1" height="22.9" fill="#22c02a"/>
<rect x="43.0" y="326.2" width="1.1" height="22.9" fill="#7be37f"/>
<rect x="46.5" y="325.0" width="3.1" height="23.3" fill="#22c02a"/>
<rect x="47.5" y="325.8" width="1.1" height="23.3" fill="#7be37f"/>
<rect x="50.9" y="325.0" width="3.1" height="23.3" fill="#22c02a"/>
<rect x="51.9" y="325.8" width="1.1" height="23.3" fill="#7be37f"/>
<rect x="55.4" y="323.6" width="3.1" height="24.7" fill="#cc4444"/>
<rect x="56.4" y="324.4" width="1.1" height="24.7" fill="#eea0a0"/>
<rect x="59.9" y="320.0" width="3.1" height="28.3" fill="#22c02a"/>
<rect x="60.9" y="320.8" width="1.1" height="28.3" fill="#7be37f"/>
<rect x="64.3" y="333.6" width="3.1" height="14.7" fill="#cc4444"/>
<rect x="65.3" y="334.4" width="1.1" height="14.7" fill="#eea0a0"/>
<rect x="68.8" y="324.0" width="3.1" height="24.3" fill="#22c02a"/>
<rect x="69.8" y="324.8" width="1.1" height="24.3" fill="#7be37f"/>
<rect x="73.3" y="321.6" width="3.1" height="26.7" fill="#22c02a"/>
<rect x="74.3" y="322.4" width="1.1" height="26.7" fill="#7be37f"/>
<rect x="77.8" y="324.0" width="3.1" height="24.3" fill="#cc4444"/>
<rect x="78.8" y="324.8" width="1.1" height="24.3" fill="#eea0a0"/>
<rect x="82.2" y="320.0" width="3.1" height="28.3" fill="#22c02a"/>
<rect x="83.2" y="320.8" width="1.1" height="28.3" fill="#7be37f"/>
<rect x="86.7" y="325.0" width="3.1" height="23.3" fill="#cc4444"/>
<rect x="87.7" y="325.8" width="1.1" height="23.3" fill="#eea0a0"/>
<rect x="91.2" y="323.6" width="3.1" height="24.7" fill="#22c02a"/>
<rect x="92.2" y="324.4" width="1.1" height="24.7" fill="#7be37f"/>
<rect x="95.6" y="323.6" width="3.1" height="24.7" fill="#cc4444"/>
<rect x="96.6" y="324.4" width="1.1" height="24.7" fill="#eea0a0"/>
<rect x="100.1" y="326.0" width="3.1" height="22.3" fill="#22c02a"/>
<rect x="101.1" y="326.8" width="1.1" height="22.3" fill="#7be37f"/>
<rect x="104.6" y="326.0" width="3.1" height="22.3" fill="#cc4444"/>
<rect x="105.6" y="326.8" width="1.1" height="22.3" fill="#eea0a0"/>
<rect x="109.0" y="326.0" width="3.1" height="22.3" fill="#22c02a"/>
<rect x="110.0" y="326.8" width="1.1" height="22.3" fill="#7be37f"/>
<rect x="113.5" y="325.0" width="3.1" height="23.3" fill="#cc4444"/>
<rect x="114.5" y="325.8" width="1.1" height="23.3" fill="#eea0a0"/>
<rect x="118.0" y="325.0" width="3.1" height="23.3" fill="#22c02a"/>
<rect x="119.0" y="325.8" width="1.1" height="23.3" fill="#7be37f"/>
<rect x="122.5" y="325.6" width="3.1" height="22.7" fill="#22c02a"/>
<rect x="123.5" y="326.4" width="1.1" height="22.7" fill="#7be37f"/>
<rect x="126.9" y="327.0" width="3.1" height="21.3" fill="#cc4444"/>
<rect x="127.9" y="327.8" width="1.1" height="21.3" fill="#eea0a0"/>
<rect x="131.4" y="325.6" width="3.1" height="22.7" fill="#22c02a"/>
<rect x="132.4" y="326.4" width="1.1" height="22.7" fill="#7be37f"/>
<rect x="135.9" y="328.0" width="3.1" height="20.3" fill="#22c02a"/>
<rect x="136.9" y="328.8" width="1.1" height="20.3" fill="#7be37f"/>
<rect x="140.3" y="319.4" width="3.1" height="28.9" fill="#cc4444"/>
<rect x="141.3" y="320.2" width="1.1" height="28.9" fill="#eea0a0"/>
<rect x="144.8" y="325.0" width="3.1" height="23.3" fill="#22c02a"/>
<rect x="145.8" y="325.8" width="1.1" height="23.3" fill="#7be37f"/>
<rect x="149.3" y="324.0" width="3.1" height="24.3" fill="#cc4444"/>
<rect x="150.3" y="324.8" width="1.1" height="24.3" fill="#eea0a0"/>
<rect x="153.8" y="326.6" width="3.1" height="21.7" fill="#22c02a"/>
<rect x="154.8" y="327.4" width="1.1" height="21.7" fill="#7be37f"/>
<rect x="158.2" y="327.4" width="3.1" height="20.9" fill="#cc4444"/>
<rect x="159.2" y="328.2" width="1.1" height="20.9" fill="#eea0a0"/>
<rect x="162.7" y="325.0" width="3.1" height="23.3" fill="#cc4444"/>
<rect x="163.7" y="325.8" width="1.1" height="23.3" fill="#eea0a0"/>
<rect x="167.2" y="324.4" width="3.1" height="23.9" fill="#cc4444"/>
<rect x="168.2" y="325.2" width="1.1" height="23.9" fill="#eea0a0"/>
<rect x="171.6" y="325.0" width="3.1" height="23.3" fill="#22c02a"/>
<rect x="172.6" y="325.8" width="1.1" height="23.3" fill="#7be37f"/>
<rect x="176.1" y="325.0" width="3.1" height="23.3" fill="#cc4444"/>
<rect x="177.1" y="325.8" width="1.1" height="23.3" fill="#eea0a0"/>
<rect x="180.6" y="325.0" width="3.1" height="23.3" fill="#22c02a"/>
<rect x="181.6" y="325.8" width="1.1" height="23.3" fill="#7be37f"/>
<rect x="185.0" y="322.0" width="3.1" height="26.3" fill="#22c02a"/>
<rect x="186.0" y="322.8" width="1.1" height="26.3" fill="#7be37f"/>
<rect x="189.5" y="319.4" width="3.1" height="28.9" fill="#cc4444"/>
<rect x="190.5" y="320.2" width="1.1" height="28.9" fill="#eea0a0"/>
<rect x="194.0" y="314.0" width="3.1" height="34.3" fill="#cc4444"/>
<rect x="195.0" y="314.8" width="1.1" height="34.3" fill="#eea0a0"/>
<rect x="198.5" y="320.0" width="3.1" height="28.3" fill="#22c02a"/>
<rect x="199.5" y="320.8" width="1.1" height="28.3" fill="#7be37f"/>
<rect x="202.9" y="323.6" width="3.1" height="24.7" fill="#cc4444"/>
<rect x="203.9" y="324.4" width="1.1" height="24.7" fill="#eea0a0"/>
<rect x="207.4" y="324.0" width="3.1" height="24.3" fill="#22c02a"/>
<rect x="208.4" y="324.8" width="1.1" height="24.3" fill="#7be37f"/>
<rect x="211.9" y="306.0" width="3.1" height="42.3" fill="#22c02a"/>
<rect x="212.9" y="306.8" width="1.1" height="42.3" fill="#7be37f"/>
<rect x="216.3" y="317.4" width="3.1" height="30.9" fill="#22c02a"/>
<rect x="217.3" y="318.2" width="1.1" height="30.9" fill="#7be37f"/>
<rect x="220.8" y="320.4" width="3.1" height="27.9" fill="#22c02a"/>
<rect x="221.8" y="321.2" width="1.1" height="27.9" fill="#7be37f"/>
<rect x="225.3" y="320.4" width="3.1" height="27.9" fill="#22c02a"/>
<rect x="226.3" y="321.2" width="1.1" height="27.9" fill="#7be37f"/>
<rect x="229.8" y="322.4" width="3.1" height="25.9" fill="#cc4444"/>
<rect x="230.8" y="323.2" width="1.1" height="25.9" fill="#eea0a0"/>
<rect x="234.2" y="322.4" width="3.1" height="25.9" fill="#22c02a"/>
<rect x="235.2" y="323.2" width="1.1" height="25.9" fill="#7be37f"/>
<rect x="238.7" y="322.0" width="3.1" height="26.3" fill="#cc4444"/>
<rect x="239.7" y="322.8" width="1.1" height="26.3" fill="#eea0a0"/>
<rect x="243.2" y="315.0" width="3.1" height="33.3" fill="#cc4444"/>
<rect x="244.2" y="315.8" width="1.1" height="33.3" fill="#eea0a0"/>
<rect x="247.6" y="320.0" width="3.1" height="28.3" fill="#22c02a"/>
<rect x="248.6" y="320.8" width="1.1" height="28.3" fill="#7be37f"/>
<rect x="252.1" y="321.0" width="3.1" height="27.3" fill="#22c02a"/>
<rect x="253.1" y="321.8" width="1.1" height="27.3" fill="#7be37f"/>
<rect x="256.6" y="322.0" width="3.1" height="26.3" fill="#22c02a"/>
<rect x="257.6" y="322.8" width="1.1" height="26.3" fill="#7be37f"/>
<rect x="261.1" y="319.0" width="3.1" height="29.3" fill="#22c02a"/>
<rect x="262.1" y="319.8" width="1.1" height="29.3" fill="#7be37f"/>
<rect x="265.5" y="322.0" width="3.1" height="26.3" fill="#22c02a"/>
<rect x="266.5" y="322.8" width="1.1" height="26.3" fill="#7be37f"/>
<rect x="270.0" y="308.0" width="3.1" height="40.3" fill="#22c02a"/>
<rect x="271.0" y="308.8" width="1.1" height="40.3" fill="#7be37f"/>
<rect x="274.5" y="323.4" width="3.1" height="24.9" fill="#22c02a"/>
<rect x="275.5" y="324.2" width="1.1" height="24.9" fill="#7be37f"/>
<rect x="278.9" y="327.4" width="3.1" height="20.9" fill="#cc4444"/>
<rect x="279.9" y="328.2" width="1.1" height="20.9" fill="#eea0a0"/>
<rect x="283.4" y="333.6" width="3.1" height="14.7" fill="#22c02a"/>
<rect x="284.4" y="334.4" width="1.1" height="14.7" fill="#7be37f"/>
<rect x="287.9" y="321.0" width="3.1" height="27.3" fill="#22c02a"/>
<rect x="288.9" y="321.8" width="1.1" height="27.3" fill="#7be37f"/>
<rect x="292.3" y="321.0" width="3.1" height="27.3" fill="#22c02a"/>
<rect x="293.3" y="321.8" width="1.1" height="27.3" fill="#7be37f"/>
<rect x="296.8" y="321.0" width="3.1" height="27.3" fill="#22c02a"/>
<rect x="297.8" y="321.8" width="1.1" height="27.3" fill="#7be37f"/>
<rect x="301.3" y="321.6" width="3.1" height="26.7" fill="#cc4444"/>
<rect x="302.3" y="322.4" width="1.1" height="26.7" fill="#eea0a0"/>
<rect x="305.8" y="322.4" width="3.1" height="25.9" fill="#22c02a"/>
<rect x="306.8" y="323.2" width="1.1" height="25.9" fill="#7be37f"/>
<rect x="310.2" y="319.0" width="3.1" height="29.3" fill="#cc4444"/>
<rect x="311.2" y="319.8" width="1.1" height="29.3" fill="#eea0a0"/>
<rect x="314.7" y="320.6" width="3.1" height="27.7" fill="#cc4444"/>
<rect x="315.7" y="321.4" width="1.1" height="27.7" fill="#eea0a0"/>
<rect x="319.2" y="319.0" width="3.1" height="29.3" fill="#22c02a"/>
<rect x="320.2" y="319.8" width="1.1" height="29.3" fill="#7be37f"/>
<rect x="323.6" y="324.4" width="3.1" height="23.9" fill="#cc4444"/>
<rect x="324.6" y="325.2" width="1.1" height="23.9" fill="#eea0a0"/>
<rect x="328.1" y="323.6" width="3.1" height="24.7" fill="#cc4444"/>
<rect x="329.1" y="324.4" width="1.1" height="24.7" fill="#eea0a0"/>
<rect x="332.6" y="316.6" width="3.1" height="31.7" fill="#22c02a"/>
<rect x="333.6" y="317.4" width="1.1" height="31.7" fill="#7be37f"/>
<rect x="337.1" y="318.4" width="3.1" height="29.9" fill="#cc4444"/>
<rect x="338.1" y="319.2" width="1.1" height="29.9" fill="#eea0a0"/>
<rect x="341.5" y="315.0" width="3.1" height="33.3" fill="#cc4444"/>
<rect x="342.5" y="315.8" width="1.1" height="33.3" fill="#eea0a0"/>
<rect x="346.0" y="315.6" width="3.1" height="32.7" fill="#cc4444"/>
<rect x="347.0" y="316.4" width="1.1" height="32.7" fill="#eea0a0"/>
<rect x="350.5" y="327.4" width="3.1" height="20.9" fill="#22c02a"/>
<rect x="351.5" y="328.2" width="1.1" height="20.9" fill="#7be37f"/>
<rect x="354.9" y="325.0" width="3.1" height="23.3" fill="#22c02a"/>
<rect x="355.9" y="325.8" width="1.1" height="23.3" fill="#7be37f"/>
<rect x="359.4" y="337.0" width="3.1" height="11.3" fill="#22c02a"/>
<rect x="360.4" y="337.8" width="1.1" height="11.3" fill="#7be37f"/>
<rect x="363.9" y="333.6" width="3.1" height="14.7" fill="#cc4444"/>
<rect x="364.9" y="334.4" width="1.1" height="14.7" fill="#eea0a0"/>
<rect x="368.3" y="329.6" width="3.1" height="18.7" fill="#cc4444"/>
<rect x="369.3" y="330.4" width="1.1" height="18.7" fill="#eea0a0"/>
<rect x="372.8" y="329.0" width="3.1" height="19.3" fill="#cc4444"/>
<rect x="373.8" y="329.8" width="1.1" height="19.3" fill="#eea0a0"/>
<rect x="377.3" y="330.4" width="3.1" height="17.9" fill="#cc4444"/>
<rect x="378.3" y="331.2" width="1.1" height="17.9" fill="#eea0a0"/>
<rect x="381.8" y="326.0" width="3.1" height="22.3" fill="#cc4444"/>
<rect x="382.8" y="326.8" width="1.1" height="22.3" fill="#eea0a0"/>
<rect x="386.2" y="326.0" width="3.1" height="22.3" fill="#22c02a"/>
<rect x="387.2" y="326.8" width="1.1" height="22.3" fill="#7be37f"/>
<rect x="390.7" y="319.4" width="3.1" height="28.9" fill="#22c02a"/>
<rect x="391.7" y="320.2" width="1.1" height="28.9" fill="#7be37f"/>
<rect x="395.2" y="321.0" width="3.1" height="27.3" fill="#cc4444"/>
<rect x="396.2" y="321.8" width="1.1" height="27.3" fill="#eea0a0"/>
<rect x="399.6" y="323.0" width="3.1" height="25.3" fill="#22c02a"/>
<rect x="400.6" y="323.8" width="1.1" height="25.3" fill="#7be37f"/>
<rect x="404.1" y="317.4" width="3.1" height="30.9" fill="#cc4444"/>
<rect x="405.1" y="318.2" width="1.1" height="30.9" fill="#eea0a0"/>
<rect x="408.6" y="320.4" width="3.1" height="27.9" fill="#22c02a"/>
<rect x="409.6" y="321.2" width="1.1" height="27.9" fill="#7be37f"/>
<rect x="413.1" y="324.0" width="3.1" height="24.3" fill="#22c02a"/>
<rect x="414.1" y="324.8" width="1.1" height="24.3" fill="#7be37f"/>
<rect x="417.5" y="320.4" width="3.1" height="27.9" fill="#22c02a"/>
<rect x="418.5" y="321.2" width="1.1" height="27.9" fill="#7be37f"/>
<rect x="422.0" y="323.0" width="3.1" height="25.3" fill="#cc4444"/>
<rect x="423.0" y="323.8" width="1.1" height="25.3" fill="#eea0a0"/>
<rect x="426.5" y="318.4" width="3.1" height="29.9" fill="#22c02a"/>
<rect x="427.5" y="319.2" width="1.1" height="29.9" fill="#7be37f"/>
<rect x="430.9" y="317.4" width="3.1" height="30.9" fill="#22c02a"/>
<rect x="431.9" y="318.2" width="1.1" height="30.9" fill="#7be37f"/>
<rect x="435.4" y="319.0" width="3.1" height="29.3" fill="#22c02a"/>
<rect x="436.4" y="319.8" width="1.1" height="29.3" fill="#7be37f"/>
<rect x="439.9" y="323.6" width="3.1" height="24.7" fill="#22c02a"/>
<rect x="440.9" y="324.4" width="1.1" height="24.7" fill="#7be37f"/>
<rect x="444.3" y="322.6" width="3.1" height="25.7" fill="#cc4444"/>
<rect x="445.3" y="323.4" width="1.1" height="25.7" fill="#eea0a0"/>
<rect x="448.8" y="306.4" width="3.1" height="41.9" fill="#cc4444"/>
<rect x="449.8" y="307.2" width="1.1" height="41.9" fill="#eea0a0"/>
<rect x="453.3" y="314.4" width="3.1" height="33.9" fill="#22c02a"/>
<rect x="454.3" y="315.2" width="1.1" height="33.9" fill="#7be37f"/>
<rect x="457.8" y="319.6" width="3.1" height="28.7" fill="#cc4444"/>
<rect x="458.8" y="320.4" width="1.1" height="28.7" fill="#eea0a0"/>
<rect x="462.2" y="317.6" width="3.1" height="30.7" fill="#22c02a"/>
<rect x="463.2" y="318.4" width="1.1" height="30.7" fill="#7be37f"/>
<rect x="466.7" y="312.4" width="3.1" height="35.9" fill="#cc4444"/>
<rect x="467.7" y="313.2" width="1.1" height="35.9" fill="#eea0a0"/>
<rect x="471.2" y="315.0" width="3.1" height="33.3" fill="#cc4444"/>
<rect x="472.2" y="315.8" width="1.1" height="33.3" fill="#eea0a0"/>
<rect x="475.6" y="317.6" width="3.1" height="30.7" fill="#22c02a"/>
<rect x="476.6" y="318.4" width="1.1" height="30.7" fill="#7be37f"/>
<rect x="480.1" y="316.4" width="3.1" height="31.9" fill="#22c02a"/>
<rect x="481.1" y="317.2" width="1.1" height="31.9" fill="#7be37f"/>
<rect x="484.6" y="316.4" width="3.1" height="31.9" fill="#22c02a"/>
<rect x="485.6" y="317.2" width="1.1" height="31.9" fill="#7be37f"/>
<rect x="489.1" y="318.4" width="3.1" height="29.9" fill="#cc4444"/>
<rect x="490.1" y="319.2" width="1.1" height="29.9" fill="#eea0a0"/>
<rect x="493.5" y="320.4" width="3.1" height="27.9" fill="#22c02a"/>
<rect x="494.5" y="321.2" width="1.1" height="27.9" fill="#7be37f"/>
<rect x="498.0" y="320.4" width="3.1" height="27.9" fill="#22c02a"/>
<rect x="499.0" y="321.2" width="1.1" height="27.9" fill="#7be37f"/>
<rect x="502.5" y="318.4" width="3.1" height="29.9" fill="#cc4444"/>
<rect x="503.5" y="319.2" width="1.1" height="29.9" fill="#eea0a0"/>
<rect x="506.9" y="318.4" width="3.1" height="29.9" fill="#22c02a"/>
<rect x="507.9" y="319.2" width="1.1" height="29.9" fill="#7be37f"/>
<rect x="511.4" y="319.6" width="3.1" height="28.7" fill="#cc4444"/>
<rect x="512.4" y="320.4" width="1.1" height="28.7" fill="#eea0a0"/>
<rect x="515.9" y="315.0" width="3.1" height="33.3" fill="#22c02a"/>
<rect x="516.9" y="315.8" width="1.1" height="33.3" fill="#7be37f"/>
<rect x="520.4" y="317.6" width="3.1" height="30.7" fill="#22c02a"/>
<rect x="521.4" y="318.4" width="1.1" height="30.7" fill="#7be37f"/>
<rect x="524.8" y="318.0" width="3.1" height="30.3" fill="#cc4444"/>
<rect x="525.8" y="318.8" width="1.1" height="30.3" fill="#eea0a0"/>
<rect x="529.3" y="314.4" width="3.1" height="33.9" fill="#cc4444"/>
<rect x="530.3" y="315.2" width="1.1" height="33.9" fill="#eea0a0"/>
<rect x="533.8" y="315.0" width="3.1" height="33.3" fill="#cc4444"/>
<rect x="534.8" y="315.8" width="1.1" height="33.3" fill="#eea0a0"/>
<rect x="538.2" y="312.4" width="3.1" height="35.9" fill="#cc4444"/>
<rect x="539.2" y="313.2" width="1.1" height="35.9" fill="#eea0a0"/>
<rect x="542.7" y="318.0" width="3.1" height="30.3" fill="#22c02a"/>
<rect x="543.7" y="318.8" width="1.1" height="30.3" fill="#7be37f"/>
<rect x="547.2" y="314.4" width="3.1" height="33.9" fill="#cc4444"/>
<rect x="548.2" y="315.2" width="1.1" height="33.9" fill="#eea0a0"/>
<rect x="551.6" y="304.0" width="3.1" height="44.3" fill="#22c02a"/>
<rect x="552.6" y="304.8" width="1.1" height="44.3" fill="#7be37f"/>
<rect x="556.1" y="312.0" width="3.1" height="36.3" fill="#cc4444"/>
<rect x="557.1" y="312.8" width="1.1" height="36.3" fill="#eea0a0"/>
<rect x="560.6" y="305.0" width="3.1" height="43.3" fill="#cc4444"/>
<rect x="561.6" y="305.8" width="1.1" height="43.3" fill="#eea0a0"/>
<rect x="565.1" y="314.4" width="3.1" height="33.9" fill="#22c02a"/>
<rect x="566.1" y="315.2" width="1.1" height="33.9" fill="#7be37f"/>
<rect x="569.5" y="314.4" width="3.1" height="33.9" fill="#cc4444"/>
<rect x="570.5" y="315.2" width="1.1" height="33.9" fill="#eea0a0"/>
<rect x="574.0" y="308.0" width="3.1" height="40.3" fill="#22c02a"/>
<rect x="575.0" y="308.8" width="1.1" height="40.3" fill="#7be37f"/>
<rect x="578.5" y="304.0" width="3.1" height="44.3" fill="#cc4444"/>
<rect x="579.5" y="304.8" width="1.1" height="44.3" fill="#eea0a0"/>
<rect x="582.9" y="306.4" width="3.1" height="41.9" fill="#cc4444"/>
<rect x="583.9" y="307.2" width="1.1" height="41.9" fill="#eea0a0"/>
<rect x="587.4" y="314.0" width="3.1" height="34.3" fill="#22c02a"/>
<rect x="588.4" y="314.8" width="1.1" height="34.3" fill="#7be37f"/>
<rect x="591.9" y="314.0" width="3.1" height="34.3" fill="#cc4444"/>
<rect x="592.9" y="314.8" width="1.1" height="34.3" fill="#eea0a0"/>
<rect x="596.4" y="317.0" width="3.1" height="31.3" fill="#22c02a"/>
<rect x="597.4" y="317.8" width="1.1" height="31.3" fill="#7be37f"/>
<polyline points="-1.2,323.3 3.3,323.3 7.8,323.1 12.2,323.0 16.7,323.0 21.2,322.8 25.7,322.7 30.1,322.7 34.6,322.5 39.1,322.4 43.5,322.5 48.0,322.5 52.5,322.6 56.9,322.6 61.4,322.4 65.9,323.0 70.4,323.0 74.8,322.9 79.3,322.9 83.8,322.7 88.2,322.8 92.7,323.0 97.2,323.2 101.7,323.4 106.1,323.5 110.6,323.9 115.1,324.0 119.5,324.2 124.0,324.5 128.5,324.8 133.0,324.8 137.4,324.9 141.9,324.6 146.4,324.7 150.8,324.9 155.3,324.6 159.8,324.7 164.2,324.9 168.7,324.9 173.2,325.2 177.7,325.2 182.1,325.2 186.6,325.2 191.1,324.8 195.5,324.2 200.0,323.9 204.5,323.9 209.0,323.8 213.4,322.8 217.9,322.3 222.4,322.1 226.8,321.7 231.3,321.9 235.8,321.7 240.2,321.6 244.7,321.0 249.2,320.7 253.7,320.5 258.1,320.4 262.6,320.1 267.1,319.9 271.5,319.1 276.0,319.1 280.5,319.5 285.0,320.5 289.4,320.6 293.9,320.4 298.4,320.3 302.8,321.1 307.3,321.3 311.8,321.2 316.2,321.2 320.7,321.1 325.2,321.2 329.7,321.2 334.1,321.3 338.6,321.2 343.1,320.9 347.5,320.6 352.0,321.1 356.5,321.2 361.0,322.6 365.4,323.2 369.9,323.3 374.4,323.0 378.8,323.5 383.3,323.8 387.8,324.0 392.3,323.9 396.7,323.8 401.2,324.0 405.7,323.9 410.1,323.9 414.6,323.9 419.1,323.8 423.5,324.1 428.0,324.1 432.5,324.2 437.0,324.4 441.4,324.2 445.9,324.1 450.4,322.5 454.8,321.6 459.3,321.1 463.8,320.5 468.3,319.6 472.7,319.1 477.2,318.6 481.7,318.5 486.1,318.3 490.6,318.0 495.1,318.2 499.5,318.2 504.0,317.9 508.5,317.8 513.0,317.6 517.4,317.5 521.9,317.5 526.4,317.4 530.8,317.0 535.3,316.6 539.8,316.9 544.3,317.1 548.7,316.8 553.2,316.1 557.7,316.1 562.1,315.6 566.6,315.4 571.1,315.3 575.5,314.9 580.0,314.2 584.5,313.5 589.0,313.2 593.4,313.0 597.9,312.9" fill="none" stroke="#111" stroke-width="1.8" stroke-linejoin="round" stroke-linecap="round" />
<line x1="0" y1="313.9" x2="148" y2="326.4" stroke="#111" stroke-width="2"/>
</g>
<g clip-path="url(#cs)">
<polygon points="-1.2,365.9 3.3,365.0 3.3,363.9 -1.2,364.2" fill="#f6c6c6" stroke="#f6c6c6" stroke-width="0.4"/>
<polygon points="3.3,365.0 7.8,370.4 7.8,365.4 3.3,363.9" fill="#f6c6c6" stroke="#f6c6c6" stroke-width="0.4"/>
<polygon points="7.8,370.4 12.2,381.1 12.2,369.3 7.8,365.4" fill="#f6c6c6" stroke="#f6c6c6" stroke-width="0.4"/>
<polygon points="12.2,381.1 16.7,394.3 16.7,375.3 12.2,369.3" fill="#f6c6c6" stroke="#f6c6c6" stroke-width="0.4"/>
<polygon points="16.7,394.3 21.2,401.3 21.2,382.4 16.7,375.3" fill="#f6c6c6" stroke="#f6c6c6" stroke-width="0.4"/>
<polygon points="21.2,401.3 25.7,399.0 25.7,389.2 21.2,382.4" fill="#f6c6c6" stroke="#f6c6c6" stroke-width="0.4"/>
<polygon points="25.7,399.0 30.1,395.3 30.1,394.2 25.7,389.2" fill="#f6c6c6" stroke="#f6c6c6" stroke-width="0.4"/>
<polygon points="30.1,395.3 30.6,394.3 30.1,394.2" fill="#f6c6c6"/>
<polygon points="30.6,394.3 34.6,386.3 34.6,395.3" fill="#c3c3e6"/>
<polygon points="34.6,386.3 39.1,378.6 39.1,392.1 34.6,395.3" fill="#c3c3e6" stroke="#c3c3e6" stroke-width="0.4"/>
<polygon points="39.1,378.6 43.5,370.5 43.5,385.9 39.1,392.1" fill="#c3c3e6" stroke="#c3c3e6" stroke-width="0.4"/>
<polygon points="43.5,370.5 48.0,365.6 48.0,379.2 43.5,385.9" fill="#c3c3e6" stroke="#c3c3e6" stroke-width="0.4"/>
<polygon points="48.0,365.6 52.5,364.2 52.5,373.0 48.0,379.2" fill="#c3c3e6" stroke="#c3c3e6" stroke-width="0.4"/>
<polygon points="52.5,364.2 56.9,366.4 56.9,369.0 52.5,373.0" fill="#c3c3e6" stroke="#c3c3e6" stroke-width="0.4"/>
<polygon points="56.9,366.4 61.4,366.2 61.4,366.6 56.9,369.0" fill="#c3c3e6" stroke="#c3c3e6" stroke-width="0.4"/>
<polygon points="61.4,366.2 65.9,365.6 65.9,365.6 61.4,366.6" fill="#c3c3e6" stroke="#c3c3e6" stroke-width="0.4"/>
<polygon points="65.9,365.6 70.4,362.4 70.4,365.0 65.9,365.6" fill="#c3c3e6" stroke="#c3c3e6" stroke-width="0.4"/>
<polygon points="70.4,362.4 74.8,361.6 74.8,364.5 70.4,365.0" fill="#c3c3e6" stroke="#c3c3e6" stroke-width="0.4"/>
<polygon points="74.8,361.6 79.3,361.0 79.3,363.4 74.8,364.5" fill="#c3c3e6" stroke="#c3c3e6" stroke-width="0.4"/>
<polygon points="79.3,361.0 83.8,361.3 83.8,362.4 79.3,363.4" fill="#c3c3e6" stroke="#c3c3e6" stroke-width="0.4"/>
<polygon points="83.8,361.3 86.6,362.0 83.8,362.4" fill="#c3c3e6"/>
<polygon points="86.6,362.0 88.2,362.4 88.2,361.8" fill="#f6c6c6"/>
<polygon points="88.2,362.4 92.7,361.8 92.7,361.6 88.2,361.8" fill="#f6c6c6" stroke="#f6c6c6" stroke-width="0.4"/>
<polygon points="92.7,361.8 97.2,364.7 97.2,362.2 92.7,361.6" fill="#f6c6c6" stroke="#f6c6c6" stroke-width="0.4"/>
<polygon points="97.2,364.7 101.7,368.9 101.7,363.8 97.2,362.2" fill="#f6c6c6" stroke="#f6c6c6" stroke-width="0.4"/>
<polygon points="101.7,368.9 106.1,375.1 106.1,366.6 101.7,363.8" fill="#f6c6c6" stroke="#f6c6c6" stroke-width="0.4"/>
<polygon points="106.1,375.1 110.6,372.8 110.6,368.6 106.1,366.6" fill="#f6c6c6" stroke="#f6c6c6" stroke-width="0.4"/>
<polygon points="110.6,372.8 115.1,374.7 115.1,371.2 110.6,368.6" fill="#f6c6c6" stroke="#f6c6c6" stroke-width="0.4"/>
<polygon points="115.1,374.7 118.2,372.1 115.1,371.2" fill="#f6c6c6"/>
<polygon points="118.2,372.1 119.5,370.9 119.5,372.5" fill="#c3c3e6"/>
<polygon points="119.5,370.9 124.0,369.9 124.0,372.7 119.5,372.5" fill="#c3c3e6" stroke="#c3c3e6" stroke-width="0.4"/>
<polygon points="124.0,369.9 128.5,364.8 128.5,370.6 124.0,372.7" fill="#c3c3e6" stroke="#c3c3e6" stroke-width="0.4"/>
<polygon points="128.5,364.8 133.0,362.8 133.0,368.6 128.5,370.6" fill="#c3c3e6" stroke="#c3c3e6" stroke-width="0.4"/>
<polygon points="133.0,362.8 137.4,363.1 137.4,366.3 133.0,368.6" fill="#c3c3e6" stroke="#c3c3e6" stroke-width="0.4"/>
<polygon points="137.4,363.1 141.6,365.3 137.4,366.3" fill="#c3c3e6"/>
<polygon points="141.6,365.3 141.9,365.4 141.9,365.2" fill="#f6c6c6"/>
<polygon points="141.9,365.4 146.4,366.9 146.4,364.6 141.9,365.2" fill="#f6c6c6" stroke="#f6c6c6" stroke-width="0.4"/>
<polygon points="146.4,366.9 150.8,368.8 150.8,365.4 146.4,364.6" fill="#f6c6c6" stroke="#f6c6c6" stroke-width="0.4"/>
<polygon points="150.8,368.8 154.8,365.9 150.8,365.4" fill="#f6c6c6"/>
<polygon points="154.8,365.9 155.3,365.5 155.3,365.9" fill="#c3c3e6"/>
<polygon points="155.3,365.5 159.8,365.1 159.8,366.3 155.3,365.9" fill="#c3c3e6" stroke="#c3c3e6" stroke-width="0.4"/>
<polygon points="159.8,365.1 164.2,364.4 164.2,366.1 159.8,366.3" fill="#c3c3e6" stroke="#c3c3e6" stroke-width="0.4"/>
<polygon points="164.2,364.4 165.9,366.3 164.2,366.1" fill="#c3c3e6"/>
<polygon points="165.9,366.3 168.7,369.8 168.7,366.7" fill="#f6c6c6"/>
<polygon points="168.7,369.8 173.2,373.5 173.2,367.6 168.7,366.7" fill="#f6c6c6" stroke="#f6c6c6" stroke-width="0.4"/>
<polygon points="173.2,373.5 177.7,378.1 177.7,370.2 173.2,367.6" fill="#f6c6c6" stroke="#f6c6c6" stroke-width="0.4"/>
<polygon points="177.7,378.1 182.1,377.9 182.1,372.7 177.7,370.2" fill="#f6c6c6" stroke="#f6c6c6" stroke-width="0.4"/>
<polygon points="182.1,377.9 186.6,378.4 186.6,375.5 182.1,372.7" fill="#f6c6c6" stroke="#f6c6c6" stroke-width="0.4"/>
<polygon points="186.6,378.4 191.1,380.4 191.1,377.7 186.6,375.5" fill="#f6c6c6" stroke="#f6c6c6" stroke-width="0.4"/>
<polygon points="191.1,380.4 195.5,389.3 195.5,380.8 191.1,377.7" fill="#f6c6c6" stroke="#f6c6c6" stroke-width="0.4"/>
<polygon points="195.5,389.3 200.0,396.4 200.0,384.5 195.5,380.8" fill="#f6c6c6" stroke="#f6c6c6" stroke-width="0.4"/>
<polygon points="200.0,396.4 204.5,401.8 204.5,389.3 200.0,384.5" fill="#f6c6c6" stroke="#f6c6c6" stroke-width="0.4"/>
<polygon points="204.5,401.8 209.0,394.7 209.0,392.5 204.5,389.3" fill="#f6c6c6" stroke="#f6c6c6" stroke-width="0.4"/>
<polygon points="209.0,394.7 209.7,392.6 209.0,392.5" fill="#f6c6c6"/>
<polygon points="209.7,392.6 213.4,382.0 213.4,392.8" fill="#c3c3e6"/>
<polygon points="213.4,382.0 217.9,368.5 217.9,388.7 213.4,392.8" fill="#c3c3e6" stroke="#c3c3e6" stroke-width="0.4"/>
<polygon points="217.9,368.5 222.4,361.2 222.4,381.7 217.9,388.7" fill="#c3c3e6" stroke="#c3c3e6" stroke-width="0.4"/>
<polygon points="222.4,361.2 226.8,361.5 226.8,373.6 222.4,381.7" fill="#c3c3e6" stroke="#c3c3e6" stroke-width="0.4"/>
<polygon points="226.8,361.5 231.3,362.6 231.3,367.2 226.8,373.6" fill="#c3c3e6" stroke="#c3c3e6" stroke-width="0.4"/>
<polygon points="231.3,362.6 235.8,363.3 235.8,363.4 231.3,367.2" fill="#c3c3e6" stroke="#c3c3e6" stroke-width="0.4"/>
<polygon points="235.8,363.3 236.0,363.4 235.8,363.4" fill="#c3c3e6"/>
<polygon points="236.0,363.4 240.2,365.8 240.2,362.9" fill="#f6c6c6"/>
<polygon points="240.2,365.8 244.7,371.2 244.7,364.9 240.2,362.9" fill="#f6c6c6" stroke="#f6c6c6" stroke-width="0.4"/>
<polygon points="244.7,371.2 249.2,375.7 249.2,367.7 244.7,364.9" fill="#f6c6c6" stroke="#f6c6c6" stroke-width="0.4"/>
<polygon points="249.2,375.7 253.7,377.2 253.7,370.6 249.2,367.7" fill="#f6c6c6" stroke="#f6c6c6" stroke-width="0.4"/>
<polygon points="253.7,377.2 258.1,375.0 258.1,373.0 253.7,370.6" fill="#f6c6c6" stroke="#f6c6c6" stroke-width="0.4"/>
<polygon points="258.1,375.0 260.4,373.6 258.1,373.0" fill="#f6c6c6"/>
<polygon points="260.4,373.6 262.6,372.3 262.6,374.3" fill="#c3c3e6"/>
<polygon points="262.6,372.3 267.1,370.0 267.1,374.0 262.6,374.3" fill="#c3c3e6" stroke="#c3c3e6" stroke-width="0.4"/>
<polygon points="267.1,370.0 271.5,368.3 271.5,372.6 267.1,374.0" fill="#c3c3e6" stroke="#c3c3e6" stroke-width="0.4"/>
<polygon points="271.5,368.3 276.0,365.3 276.0,370.2 271.5,372.6" fill="#c3c3e6" stroke="#c3c3e6" stroke-width="0.4"/>
<polygon points="276.0,365.3 280.5,365.2 280.5,368.2 276.0,370.2" fill="#c3c3e6" stroke="#c3c3e6" stroke-width="0.4"/>
<polygon points="280.5,365.2 285.0,363.1 285.0,366.4 280.5,368.2" fill="#c3c3e6" stroke="#c3c3e6" stroke-width="0.4"/>
<polygon points="285.0,363.1 289.4,363.2 289.4,365.0 285.0,366.4" fill="#c3c3e6" stroke="#c3c3e6" stroke-width="0.4"/>
<polygon points="289.4,363.2 293.9,361.1 293.9,363.6 289.4,365.0" fill="#c3c3e6" stroke="#c3c3e6" stroke-width="0.4"/>
<polygon points="293.9,361.1 298.4,360.4 298.4,362.6 293.9,363.6" fill="#c3c3e6" stroke="#c3c3e6" stroke-width="0.4"/>
<polygon points="298.4,360.4 302.8,361.1 302.8,361.8 298.4,362.6" fill="#c3c3e6" stroke="#c3c3e6" stroke-width="0.4"/>
<polygon points="302.8,361.1 307.3,361.4 307.3,361.4 302.8,361.8" fill="#c3c3e6" stroke="#c3c3e6" stroke-width="0.4"/>
<polygon points="307.3,361.4 307.3,361.4 307.3,361.4" fill="#c3c3e6"/>
<polygon points="307.3,361.4 311.8,364.2 311.8,361.6" fill="#f6c6c6"/>
<polygon points="311.8,364.2 316.2,367.2 316.2,362.9 311.8,361.6" fill="#f6c6c6" stroke="#f6c6c6" stroke-width="0.4"/>
<polygon points="316.2,367.2 320.7,367.7 320.7,364.3 316.2,362.9" fill="#f6c6c6" stroke="#f6c6c6" stroke-width="0.4"/>
<polygon points="320.7,367.7 325.2,369.5 325.2,366.0 320.7,364.3" fill="#f6c6c6" stroke="#f6c6c6" stroke-width="0.4"/>
<polygon points="325.2,369.5 329.7,370.9 329.7,367.9 325.2,366.0" fill="#f6c6c6" stroke="#f6c6c6" stroke-width="0.4"/>
<polygon points="329.7,370.9 334.1,373.2 334.1,369.7 329.7,367.9" fill="#f6c6c6" stroke="#f6c6c6" stroke-width="0.4"/>
<polygon points="334.1,373.2 338.6,375.0 338.6,371.3 334.1,369.7" fill="#f6c6c6" stroke="#f6c6c6" stroke-width="0.4"/>
<polygon points="338.6,375.0 343.1,384.6 343.1,374.7 338.6,371.3" fill="#f6c6c6" stroke="#f6c6c6" stroke-width="0.4"/>
<polygon points="343.1,384.6 347.5,396.5 347.5,380.1 343.1,374.7" fill="#f6c6c6" stroke="#f6c6c6" stroke-width="0.4"/>
<polygon points="347.5,396.5 352.0,399.7 352.0,385.8 347.5,380.1" fill="#f6c6c6" stroke="#f6c6c6" stroke-width="0.4"/>
<polygon points="352.0,399.7 356.5,391.8 356.5,389.5 352.0,385.8" fill="#f6c6c6" stroke="#f6c6c6" stroke-width="0.4"/>
<polygon points="356.5,391.8 357.3,389.7 356.5,389.5" fill="#f6c6c6"/>
<polygon points="357.3,389.7 361.0,379.8 361.0,390.5" fill="#c3c3e6"/>
<polygon points="361.0,379.8 365.4,373.7 365.4,388.3 361.0,390.5" fill="#c3c3e6" stroke="#c3c3e6" stroke-width="0.4"/>
<polygon points="365.4,373.7 369.9,373.7 369.9,383.7 365.4,388.3" fill="#c3c3e6" stroke="#c3c3e6" stroke-width="0.4"/>
<polygon points="369.9,373.7 373.9,380.4 369.9,383.7" fill="#c3c3e6"/>
<polygon points="373.9,380.4 374.4,381.2 374.4,380.0" fill="#f6c6c6"/>
<polygon points="374.4,381.2 378.8,390.1 378.8,379.7 374.4,380.0" fill="#f6c6c6" stroke="#f6c6c6" stroke-width="0.4"/>
<polygon points="378.8,390.1 383.3,396.0 383.3,382.9 378.8,379.7" fill="#f6c6c6" stroke="#f6c6c6" stroke-width="0.4"/>
<polygon points="383.3,396.0 387.8,393.6 387.8,386.9 383.3,382.9" fill="#f6c6c6" stroke="#f6c6c6" stroke-width="0.4"/>
<polygon points="387.8,393.6 391.2,389.1 387.8,386.9" fill="#f6c6c6"/>
<polygon points="391.2,389.1 392.3,387.7 392.3,389.7" fill="#c3c3e6"/>
<polygon points="392.3,387.7 396.7,385.0 396.7,390.5 392.3,389.7" fill="#c3c3e6" stroke="#c3c3e6" stroke-width="0.4"/>
<polygon points="396.7,385.0 401.2,386.1 401.2,389.7 396.7,390.5" fill="#c3c3e6" stroke="#c3c3e6" stroke-width="0.4"/>
<polygon points="401.2,386.1 403.2,389.5 401.2,389.7" fill="#c3c3e6"/>
<polygon points="403.2,389.5 405.7,393.7 405.7,389.2" fill="#f6c6c6"/>
<polygon points="405.7,393.7 410.1,395.3 410.1,389.6 405.7,389.2" fill="#f6c6c6" stroke="#f6c6c6" stroke-width="0.4"/>
<polygon points="410.1,395.3 414.6,397.1 414.6,391.4 410.1,389.6" fill="#f6c6c6" stroke="#f6c6c6" stroke-width="0.4"/>
<polygon points="414.6,397.1 417.3,391.8 414.6,391.4" fill="#f6c6c6"/>
<polygon points="417.3,391.8 419.1,388.4 419.1,392.1" fill="#c3c3e6"/>
<polygon points="419.1,388.4 423.5,382.8 423.5,391.5 419.1,392.1" fill="#c3c3e6" stroke="#c3c3e6" stroke-width="0.4"/>
<polygon points="423.5,382.8 428.0,372.7 428.0,387.3 423.5,391.5" fill="#c3c3e6" stroke="#c3c3e6" stroke-width="0.4"/>
<polygon points="428.0,372.7 432.5,367.3 432.5,381.7 428.0,387.3" fill="#c3c3e6" stroke="#c3c3e6" stroke-width="0.4"/>
<polygon points="432.5,367.3 437.0,361.7 437.0,374.6 432.5,381.7" fill="#c3c3e6" stroke="#c3c3e6" stroke-width="0.4"/>
<polygon points="437.0,361.7 441.4,360.2 441.4,368.9 437.0,374.6" fill="#c3c3e6" stroke="#c3c3e6" stroke-width="0.4"/>
<polygon points="441.4,360.2 445.9,361.2 445.9,364.6 441.4,368.9" fill="#c3c3e6" stroke="#c3c3e6" stroke-width="0.4"/>
<polygon points="445.9,361.2 448.5,363.8 445.9,364.6" fill="#c3c3e6"/>
<polygon points="448.5,363.8 450.4,365.6 450.4,363.2" fill="#f6c6c6"/>
<polygon points="450.4,365.6 454.8,368.2 454.8,363.4 450.4,363.2" fill="#f6c6c6" stroke="#f6c6c6" stroke-width="0.4"/>
<polygon points="454.8,368.2 459.3,370.9 459.3,365.2 454.8,363.4" fill="#f6c6c6" stroke="#f6c6c6" stroke-width="0.4"/>
<polygon points="459.3,370.9 463.8,368.4 463.8,366.9 459.3,365.2" fill="#f6c6c6" stroke="#f6c6c6" stroke-width="0.4"/>
<polygon points="463.8,368.4 468.3,369.5 468.3,368.5 463.8,366.9" fill="#f6c6c6" stroke="#f6c6c6" stroke-width="0.4"/>
<polygon points="468.3,369.5 472.7,372.1 472.7,369.8 468.3,368.5" fill="#f6c6c6" stroke="#f6c6c6" stroke-width="0.4"/>
<polygon points="472.7,372.1 477.2,375.8 477.2,371.3 472.7,369.8" fill="#f6c6c6" stroke="#f6c6c6" stroke-width="0.4"/>
<polygon points="477.2,375.8 481.7,377.1 481.7,372.6 477.2,371.3" fill="#f6c6c6" stroke="#f6c6c6" stroke-width="0.4"/>
<polygon points="481.7,377.1 486.1,374.0 486.1,373.7 481.7,372.6" fill="#f6c6c6" stroke="#f6c6c6" stroke-width="0.4"/>
<polygon points="486.1,374.0 490.6,375.5 490.6,374.9 486.1,373.7" fill="#f6c6c6" stroke="#f6c6c6" stroke-width="0.4"/>
<polygon points="490.6,375.5 493.4,375.3 490.6,374.9" fill="#f6c6c6"/>
<polygon points="493.4,375.3 495.1,375.1 495.1,375.5" fill="#c3c3e6"/>
<polygon points="495.1,375.1 496.7,375.5 495.1,375.5" fill="#c3c3e6"/>
<polygon points="496.7,375.5 499.5,376.3 499.5,375.6" fill="#f6c6c6"/>
<polygon points="499.5,376.3 501.7,375.3 499.5,375.6" fill="#f6c6c6"/>
<polygon points="501.7,375.3 504.0,374.3 504.0,375.1" fill="#c3c3e6"/>
<polygon points="504.0,374.3 508.5,370.1 508.5,374.3 504.0,375.1" fill="#c3c3e6" stroke="#c3c3e6" stroke-width="0.4"/>
<polygon points="508.5,370.1 513.0,366.6 513.0,372.5 508.5,374.3" fill="#c3c3e6" stroke="#c3c3e6" stroke-width="0.4"/>
<polygon points="513.0,366.6 517.4,360.8 517.4,369.6 513.0,372.5" fill="#c3c3e6" stroke="#c3c3e6" stroke-width="0.4"/>
<polygon points="517.4,360.8 521.9,360.6 521.9,366.5 517.4,369.6" fill="#c3c3e6" stroke="#c3c3e6" stroke-width="0.4"/>
<polygon points="521.9,360.6 526.4,361.7 526.4,363.9 521.9,366.5" fill="#c3c3e6" stroke="#c3c3e6" stroke-width="0.4"/>
<polygon points="526.4,361.7 527.5,364.0 526.4,363.9" fill="#c3c3e6"/>
<polygon points="527.5,364.0 530.8,370.9 530.8,364.1" fill="#f6c6c6"/>
<polygon points="530.8,370.9 535.3,385.7 535.3,367.9 530.8,364.1" fill="#f6c6c6" stroke="#f6c6c6" stroke-width="0.4"/>
<polygon points="535.3,385.7 539.8,396.0 539.8,375.0 535.3,367.9" fill="#f6c6c6" stroke="#f6c6c6" stroke-width="0.4"/>
<polygon points="539.8,396.0 544.3,399.1 544.3,382.7 539.8,375.0" fill="#f6c6c6" stroke="#f6c6c6" stroke-width="0.4"/>
<polygon points="544.3,399.1 548.7,399.5 548.7,390.2 544.3,382.7" fill="#f6c6c6" stroke="#f6c6c6" stroke-width="0.4"/>
<polygon points="548.7,399.5 553.2,396.7 553.2,395.4 548.7,390.2" fill="#f6c6c6" stroke="#f6c6c6" stroke-width="0.4"/>
<polygon points="553.2,396.7 557.7,397.9 557.7,397.8 553.2,395.4" fill="#f6c6c6" stroke="#f6c6c6" stroke-width="0.4"/>
<polygon points="557.7,397.9 558.0,397.8 557.7,397.8" fill="#f6c6c6"/>
<polygon points="558.0,397.8 562.1,396.4 562.1,397.9" fill="#c3c3e6"/>
<polygon points="562.1,396.4 565.7,397.8 562.1,397.9" fill="#c3c3e6"/>
<polygon points="565.7,397.8 566.6,398.1 566.6,397.7" fill="#f6c6c6"/>
<polygon points="566.6,398.1 571.1,399.0 571.1,397.6 566.6,397.7" fill="#f6c6c6" stroke="#f6c6c6" stroke-width="0.4"/>
<polygon points="571.1,399.0 574.5,397.7 571.1,397.6" fill="#f6c6c6"/>
<polygon points="574.5,397.7 575.5,397.3 575.5,397.7" fill="#c3c3e6"/>
<polygon points="575.5,397.3 576.4,397.8 575.5,397.7" fill="#c3c3e6"/>
<polygon points="576.4,397.8 580.0,400.1 580.0,398.2" fill="#f6c6c6"/>
<polygon points="580.0,400.1 584.5,399.9 584.5,398.9 580.0,398.2" fill="#f6c6c6" stroke="#f6c6c6" stroke-width="0.4"/>
<polygon points="584.5,399.9 589.0,401.4 589.0,399.5 584.5,398.9" fill="#f6c6c6" stroke="#f6c6c6" stroke-width="0.4"/>
<polygon points="589.0,401.4 593.4,402.2 593.4,400.2 589.0,399.5" fill="#f6c6c6" stroke="#f6c6c6" stroke-width="0.4"/>
<polygon points="593.4,402.2 596.1,400.4 593.4,400.2" fill="#f6c6c6"/>
<polygon points="596.1,400.4 597.9,399.2 597.9,400.6" fill="#c3c3e6"/>
<line x1="0" y1="368.6" x2="608.5" y2="368.6" stroke="#5a5af0" stroke-width="0.95"/>
<line x1="0" y1="396.4" x2="608.5" y2="396.4" stroke="#5a5af0" stroke-width="0.95"/>
<polyline points="-1.2,364.2 3.3,363.9 7.8,365.4 12.2,369.3 16.7,375.3 21.2,382.4 25.7,389.2 30.1,394.2 34.6,395.3 39.1,392.1 43.5,385.9 48.0,379.2 52.5,373.0 56.9,369.0 61.4,366.6 65.9,365.6 70.4,365.0 74.8,364.5 79.3,363.4 83.8,362.4 88.2,361.8 92.7,361.6 97.2,362.2 101.7,363.8 106.1,366.6 110.6,368.6 115.1,371.2 119.5,372.5 124.0,372.7 128.5,370.6 133.0,368.6 137.4,366.3 141.9,365.2 146.4,364.6 150.8,365.4 155.3,365.9 159.8,366.3 164.2,366.1 168.7,366.7 173.2,367.6 177.7,370.2 182.1,372.7 186.6,375.5 191.1,377.7 195.5,380.8 200.0,384.5 204.5,389.3 209.0,392.5 213.4,392.8 217.9,388.7 222.4,381.7 226.8,373.6 231.3,367.2 235.8,363.4 240.2,362.9 244.7,364.9 249.2,367.7 253.7,370.6 258.1,373.0 262.6,374.3 267.1,374.0 271.5,372.6 276.0,370.2 280.5,368.2 285.0,366.4 289.4,365.0 293.9,363.6 298.4,362.6 302.8,361.8 307.3,361.4 311.8,361.6 316.2,362.9 320.7,364.3 325.2,366.0 329.7,367.9 334.1,369.7 338.6,371.3 343.1,374.7 347.5,380.1 352.0,385.8 356.5,389.5 361.0,390.5 365.4,388.3 369.9,383.7 374.4,380.0 378.8,379.7 383.3,382.9 387.8,386.9 392.3,389.7 396.7,390.5 401.2,389.7 405.7,389.2 410.1,389.6 414.6,391.4 419.1,392.1 423.5,391.5 428.0,387.3 432.5,381.7 437.0,374.6 441.4,368.9 445.9,364.6 450.4,363.2 454.8,363.4 459.3,365.2 463.8,366.9 468.3,368.5 472.7,369.8 477.2,371.3 481.7,372.6 486.1,373.7 490.6,374.9 495.1,375.5 499.5,375.6 504.0,375.1 508.5,374.3 513.0,372.5 517.4,369.6 521.9,366.5 526.4,363.9 530.8,364.1 535.3,367.9 539.8,375.0 544.3,382.7 548.7,390.2 553.2,395.4 557.7,397.8 562.1,397.9 566.6,397.7 571.1,397.6 575.5,397.7 580.0,398.2 584.5,398.9 589.0,399.5 593.4,400.2 597.9,400.6" fill="none" stroke="#e05555" stroke-width="1.5" stroke-linejoin="round" stroke-linecap="round" />
<polyline points="-1.2,365.9 3.3,365.0 7.8,370.4 12.2,381.1 16.7,394.3 21.2,401.3 25.7,399.0 30.1,395.3 34.6,386.3 39.1,378.6 43.5,370.5 48.0,365.6 52.5,364.2 56.9,366.4 61.4,366.2 65.9,365.6 70.4,362.4 74.8,361.6 79.3,361.0 83.8,361.3 88.2,362.4 92.7,361.8 97.2,364.7 101.7,368.9 106.1,375.1 110.6,372.8 115.1,374.7 119.5,370.9 124.0,369.9 128.5,364.8 133.0,362.8 137.4,363.1 141.9,365.4 146.4,366.9 150.8,368.8 155.3,365.5 159.8,365.1 164.2,364.4 168.7,369.8 173.2,373.5 177.7,378.1 182.1,377.9 186.6,378.4 191.1,380.4 195.5,389.3 200.0,396.4 204.5,401.8 209.0,394.7 213.4,382.0 217.9,368.5 222.4,361.2 226.8,361.5 231.3,362.6 235.8,363.3 240.2,365.8 244.7,371.2 249.2,375.7 253.7,377.2 258.1,375.0 262.6,372.3 267.1,370.0 271.5,368.3 276.0,365.3 280.5,365.2 285.0,363.1 289.4,363.2 293.9,361.1 298.4,360.4 302.8,361.1 307.3,361.4 311.8,364.2 316.2,367.2 320.7,367.7 325.2,369.5 329.7,370.9 334.1,373.2 338.6,375.0 343.1,384.6 347.5,396.5 352.0,399.7 356.5,391.8 361.0,379.8 365.4,373.7 369.9,373.7 374.4,381.2 378.8,390.1 383.3,396.0 387.8,393.6 392.3,387.7 396.7,385.0 401.2,386.1 405.7,393.7 410.1,395.3 414.6,397.1 419.1,388.4 423.5,382.8 428.0,372.7 432.5,367.3 437.0,361.7 441.4,360.2 445.9,361.2 450.4,365.6 454.8,368.2 459.3,370.9 463.8,368.4 468.3,369.5 472.7,372.1 477.2,375.8 481.7,377.1 486.1,374.0 490.6,375.5 495.1,375.1 499.5,376.3 504.0,374.3 508.5,370.1 513.0,366.6 517.4,360.8 521.9,360.6 526.4,361.7 530.8,370.9 535.3,385.7 539.8,396.0 544.3,399.1 548.7,399.5 553.2,396.7 557.7,397.9 562.1,396.4 566.6,398.1 571.1,399.0 575.5,397.3 580.0,400.1 584.5,399.9 589.0,401.4 593.4,402.2 597.9,399.2" fill="none" stroke="#111" stroke-width="1.8" stroke-linejoin="round" stroke-linecap="round" />
</g>
<g clip-path="url(#cm)">
<polygon points="-1.2,422.4 3.3,421.6 3.3,425.2 -1.2,426.1" fill="#b9e6b9" stroke="#b9e6b9" stroke-width="0.4"/>
<polygon points="3.3,421.6 7.8,423.6 7.8,424.9 3.3,425.2" fill="#b9e6b9" stroke="#b9e6b9" stroke-width="0.4"/>
<polygon points="7.8,423.6 11.0,425.0 7.8,424.9" fill="#b9e6b9"/>
<polygon points="11.0,425.0 12.2,425.5 12.2,425.0" fill="#f4b6b6"/>
<polygon points="12.2,425.5 16.7,427.4 16.7,425.5 12.2,425.0" fill="#f4b6b6" stroke="#f4b6b6" stroke-width="0.4"/>
<polygon points="16.7,427.4 21.2,431.0 21.2,426.6 16.7,425.5" fill="#f4b6b6" stroke="#f4b6b6" stroke-width="0.4"/>
<polygon points="21.2,431.0 25.7,432.5 25.7,427.8 21.2,426.6" fill="#f4b6b6" stroke="#f4b6b6" stroke-width="0.4"/>
<polygon points="25.7,432.5 30.1,433.2 30.1,428.8 25.7,427.8" fill="#f4b6b6" stroke="#f4b6b6" stroke-width="0.4"/>
<polygon points="30.1,433.2 34.6,432.6 34.6,429.6 30.1,428.8" fill="#f4b6b6" stroke="#f4b6b6" stroke-width="0.4"/>
<polygon points="34.6,432.6 39.1,431.2 39.1,429.9 34.6,429.6" fill="#f4b6b6" stroke="#f4b6b6" stroke-width="0.4"/>
<polygon points="39.1,431.2 42.7,429.9 39.1,429.9" fill="#f4b6b6"/>
<polygon points="42.7,429.9 43.5,429.6 43.5,429.8" fill="#b9e6b9"/>
<polygon points="43.5,429.6 48.0,428.2 48.0,429.5 43.5,429.8" fill="#b9e6b9" stroke="#b9e6b9" stroke-width="0.4"/>
<polygon points="48.0,428.2 52.5,427.1 52.5,429.0 48.0,429.5" fill="#b9e6b9" stroke="#b9e6b9" stroke-width="0.4"/>
<polygon points="52.5,427.1 56.9,426.8 56.9,428.6 52.5,429.0" fill="#b9e6b9" stroke="#b9e6b9" stroke-width="0.4"/>
<polygon points="56.9,426.8 61.4,424.6 61.4,427.8 56.9,428.6" fill="#b9e6b9" stroke="#b9e6b9" stroke-width="0.4"/>
<polygon points="61.4,424.6 65.9,423.2 65.9,426.9 61.4,427.8" fill="#b9e6b9" stroke="#b9e6b9" stroke-width="0.4"/>
<polygon points="65.9,423.2 70.4,421.9 70.4,425.9 65.9,426.9" fill="#b9e6b9" stroke="#b9e6b9" stroke-width="0.4"/>
<polygon points="70.4,421.9 74.8,420.7 74.8,424.8 70.4,425.9" fill="#b9e6b9" stroke="#b9e6b9" stroke-width="0.4"/>
<polygon points="74.8,420.7 79.3,420.2 79.3,423.9 74.8,424.8" fill="#b9e6b9" stroke="#b9e6b9" stroke-width="0.4"/>
<polygon points="79.3,420.2 83.8,419.5 83.8,423.0 79.3,423.9" fill="#b9e6b9" stroke="#b9e6b9" stroke-width="0.4"/>
<polygon points="83.8,419.5 88.2,419.2 88.2,422.3 83.8,423.0" fill="#b9e6b9" stroke="#b9e6b9" stroke-width="0.4"/>
<polygon points="88.2,419.2 92.7,418.7 92.7,421.5 88.2,422.3" fill="#b9e6b9" stroke="#b9e6b9" stroke-width="0.4"/>
<polygon points="92.7,418.7 97.2,419.6 97.2,421.2 92.7,421.5" fill="#b9e6b9" stroke="#b9e6b9" stroke-width="0.4"/>
<polygon points="97.2,419.6 101.7,420.4 101.7,421.0 97.2,421.2" fill="#b9e6b9" stroke="#b9e6b9" stroke-width="0.4"/>
<polygon points="101.7,420.4 104.4,421.1 101.7,421.0" fill="#b9e6b9"/>
<polygon points="104.4,421.1 106.1,421.5 106.1,421.1" fill="#f4b6b6"/>
<polygon points="106.1,421.5 110.6,421.3 110.6,421.1 106.1,421.1" fill="#f4b6b6" stroke="#f4b6b6" stroke-width="0.4"/>
<polygon points="110.6,421.3 115.1,422.6 115.1,421.4 110.6,421.1" fill="#f4b6b6" stroke="#f4b6b6" stroke-width="0.4"/>
<polygon points="115.1,422.6 119.5,422.5 119.5,421.6 115.1,421.4" fill="#f4b6b6" stroke="#f4b6b6" stroke-width="0.4"/>
<polygon points="119.5,422.5 124.0,421.7 124.0,421.7 119.5,421.6" fill="#f4b6b6" stroke="#f4b6b6" stroke-width="0.4"/>
<polygon points="124.0,421.7 125.9,421.6 124.0,421.7" fill="#f4b6b6"/>
<polygon points="125.9,421.6 128.5,421.5 128.5,421.6" fill="#b9e6b9"/>
<polygon points="128.5,421.5 133.0,420.8 133.0,421.5 128.5,421.6" fill="#b9e6b9" stroke="#b9e6b9" stroke-width="0.4"/>
<polygon points="133.0,420.8 137.4,419.4 137.4,421.1 133.0,421.5" fill="#b9e6b9" stroke="#b9e6b9" stroke-width="0.4"/>
<polygon points="137.4,419.4 141.9,419.5 141.9,420.7 137.4,421.1" fill="#b9e6b9" stroke="#b9e6b9" stroke-width="0.4"/>
<polygon points="141.9,419.5 146.4,419.1 146.4,420.4 141.9,420.7" fill="#b9e6b9" stroke="#b9e6b9" stroke-width="0.4"/>
<polygon points="146.4,419.1 150.8,419.0 150.8,420.1 146.4,420.4" fill="#b9e6b9" stroke="#b9e6b9" stroke-width="0.4"/>
<polygon points="150.8,419.0 155.3,418.7 155.3,419.8 150.8,420.1" fill="#b9e6b9" stroke="#b9e6b9" stroke-width="0.4"/>
<polygon points="155.3,418.7 159.8,418.8 159.8,419.6 155.3,419.8" fill="#b9e6b9" stroke="#b9e6b9" stroke-width="0.4"/>
<polygon points="159.8,418.8 164.2,419.1 164.2,419.5 159.8,419.6" fill="#b9e6b9" stroke="#b9e6b9" stroke-width="0.4"/>
<polygon points="164.2,419.1 165.7,419.6 164.2,419.5" fill="#b9e6b9"/>
<polygon points="165.7,419.6 168.7,420.6 168.7,419.7" fill="#f4b6b6"/>
<polygon points="168.7,420.6 173.2,421.8 173.2,420.2 168.7,419.7" fill="#f4b6b6" stroke="#f4b6b6" stroke-width="0.4"/>
<polygon points="173.2,421.8 177.7,422.8 177.7,420.7 173.2,420.2" fill="#f4b6b6" stroke="#f4b6b6" stroke-width="0.4"/>
<polygon points="177.7,422.8 182.1,423.5 182.1,421.2 177.7,420.7" fill="#f4b6b6" stroke="#f4b6b6" stroke-width="0.4"/>
<polygon points="182.1,423.5 186.6,423.9 186.6,421.8 182.1,421.2" fill="#f4b6b6" stroke="#f4b6b6" stroke-width="0.4"/>
<polygon points="186.6,423.9 191.1,424.8 191.1,422.4 186.6,421.8" fill="#f4b6b6" stroke="#f4b6b6" stroke-width="0.4"/>
<polygon points="191.1,424.8 195.5,427.8 195.5,423.5 191.1,422.4" fill="#f4b6b6" stroke="#f4b6b6" stroke-width="0.4"/>
<polygon points="195.5,427.8 200.0,429.8 200.0,424.7 195.5,423.5" fill="#f4b6b6" stroke="#f4b6b6" stroke-width="0.4"/>
<polygon points="200.0,429.8 204.5,431.7 204.5,426.1 200.0,424.7" fill="#f4b6b6" stroke="#f4b6b6" stroke-width="0.4"/>
<polygon points="204.5,431.7 209.0,431.8 209.0,427.3 204.5,426.1" fill="#f4b6b6" stroke="#f4b6b6" stroke-width="0.4"/>
<polygon points="209.0,431.8 213.4,428.9 213.4,427.6 209.0,427.3" fill="#f4b6b6" stroke="#f4b6b6" stroke-width="0.4"/>
<polygon points="213.4,428.9 215.5,427.4 213.4,427.6" fill="#f4b6b6"/>
<polygon points="215.5,427.4 217.9,425.7 217.9,427.2" fill="#b9e6b9"/>
<polygon points="217.9,425.7 222.4,422.9 222.4,426.3 217.9,427.2" fill="#b9e6b9" stroke="#b9e6b9" stroke-width="0.4"/>
<polygon points="222.4,422.9 226.8,420.7 226.8,425.2 222.4,426.3" fill="#b9e6b9" stroke="#b9e6b9" stroke-width="0.4"/>
<polygon points="226.8,420.7 231.3,419.4 231.3,424.0 226.8,425.2" fill="#b9e6b9" stroke="#b9e6b9" stroke-width="0.4"/>
<polygon points="231.3,419.4 235.8,418.6 235.8,423.0 231.3,424.0" fill="#b9e6b9" stroke="#b9e6b9" stroke-width="0.4"/>
<polygon points="235.8,418.6 240.2,418.9 240.2,422.2 235.8,423.0" fill="#b9e6b9" stroke="#b9e6b9" stroke-width="0.4"/>
<polygon points="240.2,418.9 244.7,421.0 244.7,421.9 240.2,422.2" fill="#b9e6b9" stroke="#b9e6b9" stroke-width="0.4"/>
<polygon points="244.7,421.0 248.2,422.0 244.7,421.9" fill="#b9e6b9"/>
<polygon points="248.2,422.0 249.2,422.3 249.2,422.0" fill="#f4b6b6"/>
<polygon points="249.2,422.3 253.7,422.9 253.7,422.2 249.2,422.0" fill="#f4b6b6" stroke="#f4b6b6" stroke-width="0.4"/>
<polygon points="253.7,422.9 258.1,423.6 258.1,422.5 253.7,422.2" fill="#f4b6b6" stroke="#f4b6b6" stroke-width="0.4"/>
<polygon points="258.1,423.6 262.6,423.6 262.6,422.7 258.1,422.5" fill="#f4b6b6" stroke="#f4b6b6" stroke-width="0.4"/>
<polygon points="262.6,423.6 267.1,423.2 267.1,422.8 262.6,422.7" fill="#f4b6b6" stroke="#f4b6b6" stroke-width="0.4"/>
<polygon points="267.1,423.2 271.1,422.8 267.1,422.8" fill="#f4b6b6"/>
<polygon points="271.1,422.8 271.5,422.7 271.5,422.8" fill="#b9e6b9"/>
<polygon points="271.5,422.7 276.0,421.8 276.0,422.6 271.5,422.8" fill="#b9e6b9" stroke="#b9e6b9" stroke-width="0.4"/>
<polygon points="276.0,421.8 280.5,421.6 280.5,422.4 276.0,422.6" fill="#b9e6b9" stroke="#b9e6b9" stroke-width="0.4"/>
<polygon points="280.5,421.6 285.0,421.0 285.0,422.1 280.5,422.4" fill="#b9e6b9" stroke="#b9e6b9" stroke-width="0.4"/>
<polygon points="285.0,421.0 289.4,420.3 289.4,421.7 285.0,422.1" fill="#b9e6b9" stroke="#b9e6b9" stroke-width="0.4"/>
<polygon points="289.4,420.3 293.9,419.9 293.9,421.4 289.4,421.7" fill="#b9e6b9" stroke="#b9e6b9" stroke-width="0.4"/>
<polygon points="293.9,419.9 298.4,419.0 298.4,420.9 293.9,421.4" fill="#b9e6b9" stroke="#b9e6b9" stroke-width="0.4"/>
<polygon points="298.4,419.0 302.8,418.7 302.8,420.4 298.4,420.9" fill="#b9e6b9" stroke="#b9e6b9" stroke-width="0.4"/>
<polygon points="302.8,418.7 307.3,418.3 307.3,420.0 302.8,420.4" fill="#b9e6b9" stroke="#b9e6b9" stroke-width="0.4"/>
<polygon points="307.3,418.3 311.8,419.0 311.8,419.8 307.3,420.0" fill="#b9e6b9" stroke="#b9e6b9" stroke-width="0.4"/>
<polygon points="311.8,419.0 315.4,419.8 311.8,419.8" fill="#b9e6b9"/>
<polygon points="315.4,419.8 316.2,420.0 316.2,419.8" fill="#f4b6b6"/>
<polygon points="316.2,420.0 320.7,420.0 320.7,419.9 316.2,419.8" fill="#f4b6b6" stroke="#f4b6b6" stroke-width="0.4"/>
<polygon points="320.7,420.0 325.2,420.9 325.2,420.1 320.7,419.9" fill="#f4b6b6" stroke="#f4b6b6" stroke-width="0.4"/>
<polygon points="325.2,420.9 329.7,421.7 329.7,420.4 325.2,420.1" fill="#f4b6b6" stroke="#f4b6b6" stroke-width="0.4"/>
<polygon points="329.7,421.7 334.1,422.0 334.1,420.7 329.7,420.4" fill="#f4b6b6" stroke="#f4b6b6" stroke-width="0.4"/>
<polygon points="334.1,422.0 338.6,422.9 338.6,421.1 334.1,420.7" fill="#f4b6b6" stroke="#f4b6b6" stroke-width="0.4"/>
<polygon points="338.6,422.9 343.1,427.4 343.1,422.4 338.6,421.1" fill="#f4b6b6" stroke="#f4b6b6" stroke-width="0.4"/>
<polygon points="343.1,427.4 347.5,431.1 347.5,424.1 343.1,422.4" fill="#f4b6b6" stroke="#f4b6b6" stroke-width="0.4"/>
<polygon points="347.5,431.1 352.0,432.8 352.0,425.9 347.5,424.1" fill="#f4b6b6" stroke="#f4b6b6" stroke-width="0.4"/>
<polygon points="352.0,432.8 356.5,433.2 356.5,427.3 352.0,425.9" fill="#f4b6b6" stroke="#f4b6b6" stroke-width="0.4"/>
<polygon points="356.5,433.2 361.0,432.1 361.0,428.3 356.5,427.3" fill="#f4b6b6" stroke="#f4b6b6" stroke-width="0.4"/>
<polygon points="361.0,432.1 365.4,431.4 365.4,428.9 361.0,428.3" fill="#f4b6b6" stroke="#f4b6b6" stroke-width="0.4"/>
<polygon points="365.4,431.4 369.9,432.3 369.9,429.6 365.4,428.9" fill="#f4b6b6" stroke="#f4b6b6" stroke-width="0.4"/>
<polygon points="369.9,432.3 374.4,434.3 374.4,430.5 369.9,429.6" fill="#f4b6b6" stroke="#f4b6b6" stroke-width="0.4"/>
<polygon points="374.4,434.3 378.8,436.4 378.8,431.7 374.4,430.5" fill="#f4b6b6" stroke="#f4b6b6" stroke-width="0.4"/>
<polygon points="378.8,436.4 383.3,438.3 383.3,433.0 378.8,431.7" fill="#f4b6b6" stroke="#f4b6b6" stroke-width="0.4"/>
<polygon points="383.3,438.3 387.8,438.2 387.8,434.1 383.3,433.0" fill="#f4b6b6" stroke="#f4b6b6" stroke-width="0.4"/>
<polygon points="387.8,438.2 392.3,437.4 392.3,434.7 387.8,434.1" fill="#f4b6b6" stroke="#f4b6b6" stroke-width="0.4"/>
<polygon points="392.3,437.4 396.7,438.2 396.7,435.4 392.3,434.7" fill="#f4b6b6" stroke="#f4b6b6" stroke-width="0.4"/>
<polygon points="396.7,438.2 401.2,438.5 401.2,436.0 396.7,435.4" fill="#f4b6b6" stroke="#f4b6b6" stroke-width="0.4"/>
<polygon points="401.2,438.5 405.7,440.6 405.7,437.0 401.2,436.0" fill="#f4b6b6" stroke="#f4b6b6" stroke-width="0.4"/>
<polygon points="405.7,440.6 410.1,442.0 410.1,438.0 405.7,437.0" fill="#f4b6b6" stroke="#f4b6b6" stroke-width="0.4"/>
<polygon points="410.1,442.0 414.6,442.9 414.6,439.0 410.1,438.0" fill="#f4b6b6" stroke="#f4b6b6" stroke-width="0.4"/>
<polygon points="414.6,442.9 419.1,441.3 419.1,439.4 414.6,439.0" fill="#f4b6b6" stroke="#f4b6b6" stroke-width="0.4"/>
<polygon points="419.1,441.3 423.5,440.2 423.5,439.6 419.1,439.4" fill="#f4b6b6" stroke="#f4b6b6" stroke-width="0.4"/>
<polygon points="423.5,440.2 425.0,439.5 423.5,439.6" fill="#f4b6b6"/>
<polygon points="425.0,439.5 428.0,438.0 428.0,439.2" fill="#b9e6b9"/>
<polygon points="428.0,438.0 432.5,435.2 432.5,438.4 428.0,439.2" fill="#b9e6b9" stroke="#b9e6b9" stroke-width="0.4"/>
<polygon points="432.5,435.2 437.0,432.2 437.0,437.2 432.5,438.4" fill="#b9e6b9" stroke="#b9e6b9" stroke-width="0.4"/>
<polygon points="437.0,432.2 441.4,429.2 441.4,435.6 437.0,437.2" fill="#b9e6b9" stroke="#b9e6b9" stroke-width="0.4"/>
<polygon points="441.4,429.2 445.9,427.3 445.9,433.9 441.4,435.6" fill="#b9e6b9" stroke="#b9e6b9" stroke-width="0.4"/>
<polygon points="445.9,427.3 450.4,427.7 450.4,432.7 445.9,433.9" fill="#b9e6b9" stroke="#b9e6b9" stroke-width="0.4"/>
<polygon points="450.4,427.7 454.8,427.0 454.8,431.5 450.4,432.7" fill="#b9e6b9" stroke="#b9e6b9" stroke-width="0.4"/>
<polygon points="454.8,427.0 459.3,427.1 459.3,430.6 454.8,431.5" fill="#b9e6b9" stroke="#b9e6b9" stroke-width="0.4"/>
<polygon points="459.3,427.1 463.8,426.6 463.8,429.8 459.3,430.6" fill="#b9e6b9" stroke="#b9e6b9" stroke-width="0.4"/>
<polygon points="463.8,426.6 468.3,426.9 468.3,429.2 463.8,429.8" fill="#b9e6b9" stroke="#b9e6b9" stroke-width="0.4"/>
<polygon points="468.3,426.9 472.7,428.2 472.7,429.0 468.3,429.2" fill="#b9e6b9" stroke="#b9e6b9" stroke-width="0.4"/>
<polygon points="472.7,428.2 477.2,428.4 477.2,428.9 472.7,429.0" fill="#b9e6b9" stroke="#b9e6b9" stroke-width="0.4"/>
<polygon points="477.2,428.4 481.7,428.2 481.7,428.8 477.2,428.9" fill="#b9e6b9" stroke="#b9e6b9" stroke-width="0.4"/>
<polygon points="481.7,428.2 486.1,427.6 486.1,428.5 481.7,428.8" fill="#b9e6b9" stroke="#b9e6b9" stroke-width="0.4"/>
<polygon points="486.1,427.6 490.6,428.4 490.6,428.5 486.1,428.5" fill="#b9e6b9" stroke="#b9e6b9" stroke-width="0.4"/>
<polygon points="490.6,428.4 495.1,428.2 495.1,428.4 490.6,428.5" fill="#b9e6b9" stroke="#b9e6b9" stroke-width="0.4"/>
<polygon points="495.1,428.2 499.5,428.2 499.5,428.4 495.1,428.4" fill="#b9e6b9" stroke="#b9e6b9" stroke-width="0.4"/>
<polygon points="499.5,428.2 502.6,428.4 499.5,428.4" fill="#b9e6b9"/>
<polygon points="502.6,428.4 504.0,428.5 504.0,428.4" fill="#f4b6b6"/>
<polygon points="504.0,428.5 504.6,428.4 504.0,428.4" fill="#f4b6b6"/>
<polygon points="504.6,428.4 508.5,427.6 508.5,428.2" fill="#b9e6b9"/>
<polygon points="508.5,427.6 513.0,426.9 513.0,428.0 508.5,428.2" fill="#b9e6b9" stroke="#b9e6b9" stroke-width="0.4"/>
<polygon points="513.0,426.9 517.4,426.1 517.4,427.6 513.0,428.0" fill="#b9e6b9" stroke="#b9e6b9" stroke-width="0.4"/>
<polygon points="517.4,426.1 521.9,425.4 521.9,427.2 517.4,427.6" fill="#b9e6b9" stroke="#b9e6b9" stroke-width="0.4"/>
<polygon points="521.9,425.4 526.4,425.4 526.4,426.8 521.9,427.2" fill="#b9e6b9" stroke="#b9e6b9" stroke-width="0.4"/>
<polygon points="526.4,425.4 529.3,426.9 526.4,426.8" fill="#b9e6b9"/>
<polygon points="529.3,426.9 530.8,427.7 530.8,427.0" fill="#f4b6b6"/>
<polygon points="530.8,427.7 535.3,430.2 535.3,427.6 530.8,427.0" fill="#f4b6b6" stroke="#f4b6b6" stroke-width="0.4"/>
<polygon points="535.3,430.2 539.8,432.8 539.8,428.7 535.3,427.6" fill="#f4b6b6" stroke="#f4b6b6" stroke-width="0.4"/>
<polygon points="539.8,432.8 544.3,434.9 544.3,429.9 539.8,428.7" fill="#f4b6b6" stroke="#f4b6b6" stroke-width="0.4"/>
<polygon points="544.3,434.9 548.7,438.4 548.7,431.6 544.3,429.9" fill="#f4b6b6" stroke="#f4b6b6" stroke-width="0.4"/>
<polygon points="548.7,438.4 553.2,439.2 553.2,433.1 548.7,431.6" fill="#f4b6b6" stroke="#f4b6b6" stroke-width="0.4"/>
<polygon points="553.2,439.2 557.7,442.0 557.7,434.9 553.2,433.1" fill="#f4b6b6" stroke="#f4b6b6" stroke-width="0.4"/>
<polygon points="557.7,442.0 562.1,445.6 562.1,437.0 557.7,434.9" fill="#f4b6b6" stroke="#f4b6b6" stroke-width="0.4"/>
<polygon points="562.1,445.6 566.6,446.9 566.6,439.0 562.1,437.0" fill="#f4b6b6" stroke="#f4b6b6" stroke-width="0.4"/>
<polygon points="566.6,446.9 571.1,450.0 571.1,441.2 566.6,439.0" fill="#f4b6b6" stroke="#f4b6b6" stroke-width="0.4"/>
<polygon points="571.1,450.0 575.5,451.5 575.5,443.3 571.1,441.2" fill="#f4b6b6" stroke="#f4b6b6" stroke-width="0.4"/>
<polygon points="575.5,451.5 580.0,455.8 580.0,445.8 575.5,443.3" fill="#f4b6b6" stroke="#f4b6b6" stroke-width="0.4"/>
<polygon points="580.0,455.8 584.5,459.8 584.5,448.6 580.0,445.8" fill="#f4b6b6" stroke="#f4b6b6" stroke-width="0.4"/>
<polygon points="584.5,459.8 589.0,462.1 589.0,451.3 584.5,448.6" fill="#f4b6b6" stroke="#f4b6b6" stroke-width="0.4"/>
<polygon points="589.0,462.1 593.4,465.2 593.4,454.1 589.0,451.3" fill="#f4b6b6" stroke="#f4b6b6" stroke-width="0.4"/>
<polygon points="593.4,465.2 597.9,464.8 597.9,456.2 593.4,454.1" fill="#f4b6b6" stroke="#f4b6b6" stroke-width="0.4"/>
<rect x="1.9" y="430.2" width="2.8" height="4.4" fill="#35c23a"/>
<rect x="2.8" y="430.8" width="1" height="3.2" fill="#8fe08f"/>
<rect x="6.4" y="432.5" width="2.8" height="2.1" fill="#35c23a"/>
<rect x="7.3" y="433.1" width="1" height="0.9" fill="#8fe08f"/>
<rect x="10.8" y="434.6" width="2.8" height="1.3" fill="#d85555"/>
<rect x="15.3" y="434.6" width="2.8" height="2.7" fill="#d85555"/>
<rect x="16.2" y="435.2" width="1" height="1.5" fill="#eea0a0"/>
<rect x="19.8" y="434.6" width="2.8" height="5.2" fill="#d85555"/>
<rect x="20.7" y="435.2" width="1" height="4.0" fill="#eea0a0"/>
<rect x="24.3" y="434.6" width="2.8" height="5.5" fill="#d85555"/>
<rect x="25.2" y="435.2" width="1" height="4.3" fill="#eea0a0"/>
<rect x="28.7" y="434.6" width="2.8" height="5.2" fill="#d85555"/>
<rect x="29.6" y="435.2" width="1" height="4.0" fill="#eea0a0"/>
<rect x="33.2" y="434.6" width="2.8" height="3.8" fill="#d85555"/>
<rect x="34.1" y="435.2" width="1" height="2.6" fill="#eea0a0"/>
<rect x="37.7" y="434.6" width="2.8" height="2.1" fill="#d85555"/>
<rect x="38.6" y="435.2" width="1" height="0.9" fill="#eea0a0"/>
<rect x="42.1" y="433.5" width="2.8" height="1.1" fill="#35c23a"/>
<rect x="46.6" y="432.5" width="2.8" height="2.1" fill="#35c23a"/>
<rect x="47.5" y="433.1" width="1" height="0.9" fill="#8fe08f"/>
<rect x="51.1" y="431.9" width="2.8" height="2.7" fill="#35c23a"/>
<rect x="52.0" y="432.5" width="1" height="1.5" fill="#8fe08f"/>
<rect x="55.5" y="432.0" width="2.8" height="2.6" fill="#35c23a"/>
<rect x="56.4" y="432.6" width="1" height="1.4" fill="#8fe08f"/>
<rect x="60.0" y="430.6" width="2.8" height="4.0" fill="#35c23a"/>
<rect x="60.9" y="431.2" width="1" height="2.8" fill="#8fe08f"/>
<rect x="64.5" y="430.1" width="2.8" height="4.5" fill="#35c23a"/>
<rect x="65.4" y="430.7" width="1" height="3.3" fill="#8fe08f"/>
<rect x="69.0" y="429.8" width="2.8" height="4.8" fill="#35c23a"/>
<rect x="69.9" y="430.4" width="1" height="3.6" fill="#8fe08f"/>
<rect x="73.4" y="429.7" width="2.8" height="4.9" fill="#35c23a"/>
<rect x="74.3" y="430.3" width="1" height="3.7" fill="#8fe08f"/>
<rect x="77.9" y="430.1" width="2.8" height="4.5" fill="#35c23a"/>
<rect x="78.8" y="430.7" width="1" height="3.3" fill="#8fe08f"/>
<rect x="82.4" y="430.2" width="2.8" height="4.4" fill="#35c23a"/>
<rect x="83.3" y="430.8" width="1" height="3.2" fill="#8fe08f"/>
<rect x="86.8" y="430.8" width="2.8" height="3.8" fill="#35c23a"/>
<rect x="87.7" y="431.4" width="1" height="2.6" fill="#8fe08f"/>
<rect x="91.3" y="430.9" width="2.8" height="3.7" fill="#35c23a"/>
<rect x="92.2" y="431.5" width="1" height="2.5" fill="#8fe08f"/>
<rect x="95.8" y="432.2" width="2.8" height="2.4" fill="#35c23a"/>
<rect x="96.7" y="432.8" width="1" height="1.2" fill="#8fe08f"/>
<rect x="100.3" y="433.2" width="2.8" height="1.4" fill="#35c23a"/>
<rect x="104.7" y="434.6" width="2.8" height="1.2" fill="#d85555"/>
<rect x="109.2" y="434.6" width="2.8" height="1.0" fill="#d85555"/>
<rect x="113.7" y="434.6" width="2.8" height="1.9" fill="#d85555"/>
<rect x="114.6" y="435.2" width="1" height="0.7" fill="#eea0a0"/>
<rect x="118.1" y="434.6" width="2.8" height="1.7" fill="#d85555"/>
<rect x="119.0" y="435.2" width="1" height="0.5" fill="#eea0a0"/>
<rect x="122.6" y="434.6" width="2.8" height="0.9" fill="#d85555"/>
<rect x="127.1" y="433.7" width="2.8" height="0.9" fill="#35c23a"/>
<rect x="131.6" y="433.1" width="2.8" height="1.5" fill="#35c23a"/>
<rect x="136.0" y="432.2" width="2.8" height="2.4" fill="#35c23a"/>
<rect x="136.9" y="432.8" width="1" height="1.2" fill="#8fe08f"/>
<rect x="140.5" y="432.5" width="2.8" height="2.1" fill="#35c23a"/>
<rect x="141.4" y="433.1" width="1" height="0.9" fill="#8fe08f"/>
<rect x="145.0" y="432.5" width="2.8" height="2.1" fill="#35c23a"/>
<rect x="145.9" y="433.1" width="1" height="0.9" fill="#8fe08f"/>
<rect x="149.4" y="432.7" width="2.8" height="1.9" fill="#35c23a"/>
<rect x="150.3" y="433.3" width="1" height="0.7" fill="#8fe08f"/>
<rect x="153.9" y="432.6" width="2.8" height="2.0" fill="#35c23a"/>
<rect x="154.8" y="433.2" width="1" height="0.8" fill="#8fe08f"/>
<rect x="158.4" y="432.9" width="2.8" height="1.7" fill="#35c23a"/>
<rect x="159.3" y="433.5" width="1" height="0.5" fill="#8fe08f"/>
<rect x="162.8" y="433.4" width="2.8" height="1.2" fill="#35c23a"/>
<rect x="167.3" y="434.6" width="2.8" height="1.7" fill="#d85555"/>
<rect x="168.2" y="435.2" width="1" height="0.5" fill="#eea0a0"/>
<rect x="171.8" y="434.6" width="2.8" height="2.4" fill="#d85555"/>
<rect x="172.7" y="435.2" width="1" height="1.2" fill="#eea0a0"/>
<rect x="176.3" y="434.6" width="2.8" height="2.9" fill="#d85555"/>
<rect x="177.2" y="435.2" width="1" height="1.7" fill="#eea0a0"/>
<rect x="180.7" y="434.6" width="2.8" height="3.0" fill="#d85555"/>
<rect x="181.6" y="435.2" width="1" height="1.8" fill="#eea0a0"/>
<rect x="185.2" y="434.6" width="2.8" height="2.9" fill="#d85555"/>
<rect x="186.1" y="435.2" width="1" height="1.7" fill="#eea0a0"/>
<rect x="189.7" y="434.6" width="2.8" height="3.2" fill="#d85555"/>
<rect x="190.6" y="435.2" width="1" height="2.0" fill="#eea0a0"/>
<rect x="194.1" y="434.6" width="2.8" height="5.1" fill="#d85555"/>
<rect x="195.0" y="435.2" width="1" height="3.9" fill="#eea0a0"/>
<rect x="198.6" y="434.6" width="2.8" height="5.9" fill="#d85555"/>
<rect x="199.5" y="435.2" width="1" height="4.7" fill="#eea0a0"/>
<rect x="203.1" y="434.6" width="2.8" height="6.4" fill="#d85555"/>
<rect x="204.0" y="435.2" width="1" height="5.2" fill="#eea0a0"/>
<rect x="207.6" y="434.6" width="2.8" height="5.3" fill="#d85555"/>
<rect x="208.5" y="435.2" width="1" height="4.1" fill="#eea0a0"/>
<rect x="212.0" y="434.6" width="2.8" height="2.1" fill="#d85555"/>
<rect x="212.9" y="435.2" width="1" height="0.9" fill="#eea0a0"/>
<rect x="216.5" y="432.3" width="2.8" height="2.3" fill="#35c23a"/>
<rect x="217.4" y="432.9" width="1" height="1.1" fill="#8fe08f"/>
<rect x="221.0" y="430.3" width="2.8" height="4.3" fill="#35c23a"/>
<rect x="221.9" y="430.9" width="1" height="3.1" fill="#8fe08f"/>
<rect x="225.4" y="429.3" width="2.8" height="5.3" fill="#35c23a"/>
<rect x="226.3" y="429.9" width="1" height="4.1" fill="#8fe08f"/>
<rect x="229.9" y="429.2" width="2.8" height="5.4" fill="#35c23a"/>
<rect x="230.8" y="429.8" width="1" height="4.2" fill="#8fe08f"/>
<rect x="234.4" y="429.5" width="2.8" height="5.1" fill="#35c23a"/>
<rect x="235.3" y="430.1" width="1" height="3.9" fill="#8fe08f"/>
<rect x="238.8" y="430.6" width="2.8" height="4.0" fill="#35c23a"/>
<rect x="239.7" y="431.2" width="1" height="2.8" fill="#8fe08f"/>
<rect x="243.3" y="432.9" width="2.8" height="1.7" fill="#35c23a"/>
<rect x="244.2" y="433.5" width="1" height="0.5" fill="#8fe08f"/>
<rect x="247.8" y="434.6" width="2.8" height="1.1" fill="#d85555"/>
<rect x="252.3" y="434.6" width="2.8" height="1.6" fill="#d85555"/>
<rect x="253.2" y="435.2" width="1" height="0.4" fill="#eea0a0"/>
<rect x="256.7" y="434.6" width="2.8" height="1.9" fill="#d85555"/>
<rect x="257.6" y="435.2" width="1" height="0.7" fill="#eea0a0"/>
<rect x="261.2" y="434.6" width="2.8" height="1.7" fill="#d85555"/>
<rect x="262.1" y="435.2" width="1" height="0.5" fill="#eea0a0"/>
<rect x="265.7" y="434.6" width="2.8" height="1.2" fill="#d85555"/>
<rect x="270.1" y="433.8" width="2.8" height="0.8" fill="#35c23a"/>
<rect x="274.6" y="433.0" width="2.8" height="1.6" fill="#35c23a"/>
<rect x="275.5" y="433.6" width="1" height="0.4" fill="#8fe08f"/>
<rect x="279.1" y="433.0" width="2.8" height="1.6" fill="#35c23a"/>
<rect x="280.0" y="433.6" width="1" height="0.4" fill="#8fe08f"/>
<rect x="283.6" y="432.7" width="2.8" height="1.9" fill="#35c23a"/>
<rect x="284.5" y="433.3" width="1" height="0.7" fill="#8fe08f"/>
<rect x="288.0" y="432.4" width="2.8" height="2.2" fill="#35c23a"/>
<rect x="288.9" y="433.0" width="1" height="1.0" fill="#8fe08f"/>
<rect x="292.5" y="432.3" width="2.8" height="2.3" fill="#35c23a"/>
<rect x="293.4" y="432.9" width="1" height="1.1" fill="#8fe08f"/>
<rect x="297.0" y="431.9" width="2.8" height="2.7" fill="#35c23a"/>
<rect x="297.9" y="432.5" width="1" height="1.5" fill="#8fe08f"/>
<rect x="301.4" y="432.0" width="2.8" height="2.6" fill="#35c23a"/>
<rect x="302.3" y="432.6" width="1" height="1.4" fill="#8fe08f"/>
<rect x="305.9" y="432.1" width="2.8" height="2.5" fill="#35c23a"/>
<rect x="306.8" y="432.7" width="1" height="1.3" fill="#8fe08f"/>
<rect x="310.4" y="433.0" width="2.8" height="1.6" fill="#35c23a"/>
<rect x="311.3" y="433.6" width="1" height="0.4" fill="#8fe08f"/>
<rect x="314.8" y="434.6" width="2.8" height="1.0" fill="#d85555"/>
<rect x="319.3" y="434.6" width="2.8" height="0.9" fill="#d85555"/>
<rect x="323.8" y="434.6" width="2.8" height="1.6" fill="#d85555"/>
<rect x="324.7" y="435.2" width="1" height="0.4" fill="#eea0a0"/>
<rect x="328.3" y="434.6" width="2.8" height="2.1" fill="#d85555"/>
<rect x="329.2" y="435.2" width="1" height="0.9" fill="#eea0a0"/>
<rect x="332.7" y="434.6" width="2.8" height="2.1" fill="#d85555"/>
<rect x="333.6" y="435.2" width="1" height="0.9" fill="#eea0a0"/>
<rect x="337.2" y="434.6" width="2.8" height="2.5" fill="#d85555"/>
<rect x="338.1" y="435.2" width="1" height="1.3" fill="#eea0a0"/>
<rect x="341.7" y="434.6" width="2.8" height="5.8" fill="#d85555"/>
<rect x="342.6" y="435.2" width="1" height="4.6" fill="#eea0a0"/>
<rect x="346.1" y="434.6" width="2.8" height="7.8" fill="#d85555"/>
<rect x="347.0" y="435.2" width="1" height="6.6" fill="#eea0a0"/>
<rect x="350.6" y="434.6" width="2.8" height="7.7" fill="#d85555"/>
<rect x="351.5" y="435.2" width="1" height="6.5" fill="#eea0a0"/>
<rect x="355.1" y="434.6" width="2.8" height="6.7" fill="#d85555"/>
<rect x="356.0" y="435.2" width="1" height="5.5" fill="#eea0a0"/>
<rect x="359.6" y="434.6" width="2.8" height="4.7" fill="#d85555"/>
<rect x="360.5" y="435.2" width="1" height="3.5" fill="#eea0a0"/>
<rect x="364.0" y="434.6" width="2.8" height="3.3" fill="#d85555"/>
<rect x="364.9" y="435.2" width="1" height="2.1" fill="#eea0a0"/>
<rect x="368.5" y="434.6" width="2.8" height="3.5" fill="#d85555"/>
<rect x="369.4" y="435.2" width="1" height="2.3" fill="#eea0a0"/>
<rect x="373.0" y="434.6" width="2.8" height="4.6" fill="#d85555"/>
<rect x="373.9" y="435.2" width="1" height="3.4" fill="#eea0a0"/>
<rect x="377.4" y="434.6" width="2.8" height="5.5" fill="#d85555"/>
<rect x="378.3" y="435.2" width="1" height="4.3" fill="#eea0a0"/>
<rect x="381.9" y="434.6" width="2.8" height="6.1" fill="#d85555"/>
<rect x="382.8" y="435.2" width="1" height="4.9" fill="#eea0a0"/>
<rect x="386.4" y="434.6" width="2.8" height="5.0" fill="#d85555"/>
<rect x="387.3" y="435.2" width="1" height="3.8" fill="#eea0a0"/>
<rect x="390.9" y="434.6" width="2.8" height="3.5" fill="#d85555"/>
<rect x="391.8" y="435.2" width="1" height="2.3" fill="#eea0a0"/>
<rect x="395.3" y="434.6" width="2.8" height="3.5" fill="#d85555"/>
<rect x="396.2" y="435.2" width="1" height="2.3" fill="#eea0a0"/>
<rect x="399.8" y="434.6" width="2.8" height="3.3" fill="#d85555"/>
<rect x="400.7" y="435.2" width="1" height="2.1" fill="#eea0a0"/>
<rect x="404.3" y="434.6" width="2.8" height="4.5" fill="#d85555"/>
<rect x="405.2" y="435.2" width="1" height="3.3" fill="#eea0a0"/>
<rect x="408.7" y="434.6" width="2.8" height="4.9" fill="#d85555"/>
<rect x="409.6" y="435.2" width="1" height="3.7" fill="#eea0a0"/>
<rect x="413.2" y="434.6" width="2.8" height="4.7" fill="#d85555"/>
<rect x="414.1" y="435.2" width="1" height="3.5" fill="#eea0a0"/>
<rect x="417.7" y="434.6" width="2.8" height="2.6" fill="#d85555"/>
<rect x="418.6" y="435.2" width="1" height="1.4" fill="#eea0a0"/>
<rect x="422.1" y="434.6" width="2.8" height="1.4" fill="#d85555"/>
<rect x="426.6" y="432.5" width="2.8" height="2.1" fill="#35c23a"/>
<rect x="427.5" y="433.1" width="1" height="0.9" fill="#8fe08f"/>
<rect x="431.1" y="430.5" width="2.8" height="4.1" fill="#35c23a"/>
<rect x="432.0" y="431.1" width="1" height="2.9" fill="#8fe08f"/>
<rect x="435.6" y="428.8" width="2.8" height="5.8" fill="#35c23a"/>
<rect x="436.5" y="429.4" width="1" height="4.6" fill="#8fe08f"/>
<rect x="440.0" y="427.4" width="2.8" height="7.2" fill="#35c23a"/>
<rect x="440.9" y="428.0" width="1" height="6.0" fill="#8fe08f"/>
<rect x="444.5" y="427.2" width="2.8" height="7.4" fill="#35c23a"/>
<rect x="445.4" y="427.8" width="1" height="6.2" fill="#8fe08f"/>
<rect x="449.0" y="428.8" width="2.8" height="5.8" fill="#35c23a"/>
<rect x="449.9" y="429.4" width="1" height="4.6" fill="#8fe08f"/>
<rect x="453.4" y="429.2" width="2.8" height="5.4" fill="#35c23a"/>
<rect x="454.3" y="429.8" width="1" height="4.2" fill="#8fe08f"/>
<rect x="457.9" y="430.2" width="2.8" height="4.4" fill="#35c23a"/>
<rect x="458.8" y="430.8" width="1" height="3.2" fill="#8fe08f"/>
<rect x="462.4" y="430.5" width="2.8" height="4.1" fill="#35c23a"/>
<rect x="463.3" y="431.1" width="1" height="2.9" fill="#8fe08f"/>
<rect x="466.9" y="431.5" width="2.8" height="3.1" fill="#35c23a"/>
<rect x="467.8" y="432.1" width="1" height="1.9" fill="#8fe08f"/>
<rect x="471.3" y="433.0" width="2.8" height="1.6" fill="#35c23a"/>
<rect x="472.2" y="433.6" width="1" height="0.4" fill="#8fe08f"/>
<rect x="475.8" y="433.3" width="2.8" height="1.3" fill="#35c23a"/>
<rect x="480.3" y="433.2" width="2.8" height="1.4" fill="#35c23a"/>
<rect x="484.7" y="432.8" width="2.8" height="1.8" fill="#35c23a"/>
<rect x="485.6" y="433.4" width="1" height="0.6" fill="#8fe08f"/>
<rect x="489.2" y="433.7" width="2.8" height="0.9" fill="#35c23a"/>
<rect x="493.7" y="433.6" width="2.8" height="1.0" fill="#35c23a"/>
<rect x="498.1" y="433.6" width="2.8" height="1.0" fill="#35c23a"/>
<rect x="502.6" y="434.6" width="2.8" height="0.9" fill="#d85555"/>
<rect x="507.1" y="433.1" width="2.8" height="1.5" fill="#35c23a"/>
<rect x="511.6" y="432.7" width="2.8" height="1.9" fill="#35c23a"/>
<rect x="512.5" y="433.3" width="1" height="0.7" fill="#8fe08f"/>
<rect x="516.0" y="432.3" width="2.8" height="2.3" fill="#35c23a"/>
<rect x="516.9" y="432.9" width="1" height="1.1" fill="#8fe08f"/>
<rect x="520.5" y="432.0" width="2.8" height="2.6" fill="#35c23a"/>
<rect x="521.4" y="432.6" width="1" height="1.4" fill="#8fe08f"/>
<rect x="525.0" y="432.4" width="2.8" height="2.2" fill="#35c23a"/>
<rect x="525.9" y="433.0" width="1" height="1.0" fill="#8fe08f"/>
<rect x="529.4" y="434.6" width="2.8" height="1.5" fill="#d85555"/>
<rect x="530.3" y="435.2" width="1" height="0.3" fill="#eea0a0"/>
<rect x="533.9" y="434.6" width="2.8" height="3.4" fill="#d85555"/>
<rect x="534.8" y="435.2" width="1" height="2.2" fill="#eea0a0"/>
<rect x="538.4" y="434.6" width="2.8" height="4.9" fill="#d85555"/>
<rect x="539.3" y="435.2" width="1" height="3.7" fill="#eea0a0"/>
<rect x="542.9" y="434.6" width="2.8" height="5.8" fill="#d85555"/>
<rect x="543.8" y="435.2" width="1" height="4.6" fill="#eea0a0"/>
<rect x="547.3" y="434.6" width="2.8" height="7.6" fill="#d85555"/>
<rect x="548.2" y="435.2" width="1" height="6.4" fill="#eea0a0"/>
<rect x="551.8" y="434.6" width="2.8" height="6.9" fill="#d85555"/>
<rect x="552.7" y="435.2" width="1" height="5.7" fill="#eea0a0"/>
<rect x="556.3" y="434.6" width="2.8" height="7.9" fill="#d85555"/>
<rect x="557.2" y="435.2" width="1" height="6.7" fill="#eea0a0"/>
<rect x="560.7" y="434.6" width="2.8" height="9.3" fill="#d85555"/>
<rect x="561.6" y="435.2" width="1" height="8.1" fill="#eea0a0"/>
<rect x="565.2" y="434.6" width="2.8" height="8.7" fill="#d85555"/>
<rect x="566.1" y="435.2" width="1" height="7.5" fill="#eea0a0"/>
<rect x="569.7" y="434.6" width="2.8" height="9.6" fill="#d85555"/>
<rect x="570.6" y="435.2" width="1" height="8.4" fill="#eea0a0"/>
<rect x="574.1" y="434.6" width="2.8" height="9.1" fill="#d85555"/>
<rect x="575.0" y="435.2" width="1" height="7.9" fill="#eea0a0"/>
<rect x="578.6" y="434.6" width="2.8" height="10.8" fill="#d85555"/>
<rect x="579.5" y="435.2" width="1" height="9.6" fill="#eea0a0"/>
<rect x="583.1" y="434.6" width="2.8" height="12.0" fill="#d85555"/>
<rect x="584.0" y="435.2" width="1" height="10.8" fill="#eea0a0"/>
<rect x="587.6" y="434.6" width="2.8" height="11.6" fill="#d85555"/>
<rect x="588.5" y="435.2" width="1" height="10.4" fill="#eea0a0"/>
<rect x="592.0" y="434.6" width="2.8" height="11.9" fill="#d85555"/>
<rect x="592.9" y="435.2" width="1" height="10.7" fill="#eea0a0"/>
<rect x="596.5" y="434.6" width="2.8" height="9.4" fill="#d85555"/>
<rect x="597.4" y="435.2" width="1" height="8.2" fill="#eea0a0"/>
<line x1="0" y1="434.6" x2="608.5" y2="434.6" stroke="#5a5af0" stroke-width="0.95"/>
<polyline points="-1.2,426.1 3.3,425.2 7.8,424.9 12.2,425.0 16.7,425.5 21.2,426.6 25.7,427.8 30.1,428.8 34.6,429.6 39.1,429.9 43.5,429.8 48.0,429.5 52.5,429.0 56.9,428.6 61.4,427.8 65.9,426.9 70.4,425.9 74.8,424.8 79.3,423.9 83.8,423.0 88.2,422.3 92.7,421.5 97.2,421.2 101.7,421.0 106.1,421.1 110.6,421.1 115.1,421.4 119.5,421.6 124.0,421.7 128.5,421.6 133.0,421.5 137.4,421.1 141.9,420.7 146.4,420.4 150.8,420.1 155.3,419.8 159.8,419.6 164.2,419.5 168.7,419.7 173.2,420.2 177.7,420.7 182.1,421.2 186.6,421.8 191.1,422.4 195.5,423.5 200.0,424.7 204.5,426.1 209.0,427.3 213.4,427.6 217.9,427.2 222.4,426.3 226.8,425.2 231.3,424.0 235.8,423.0 240.2,422.2 244.7,421.9 249.2,422.0 253.7,422.2 258.1,422.5 262.6,422.7 267.1,422.8 271.5,422.8 276.0,422.6 280.5,422.4 285.0,422.1 289.4,421.7 293.9,421.4 298.4,420.9 302.8,420.4 307.3,420.0 311.8,419.8 316.2,419.8 320.7,419.9 325.2,420.1 329.7,420.4 334.1,420.7 338.6,421.1 343.1,422.4 347.5,424.1 352.0,425.9 356.5,427.3 361.0,428.3 365.4,428.9 369.9,429.6 374.4,430.5 378.8,431.7 383.3,433.0 387.8,434.1 392.3,434.7 396.7,435.4 401.2,436.0 405.7,437.0 410.1,438.0 414.6,439.0 419.1,439.4 423.5,439.6 428.0,439.2 432.5,438.4 437.0,437.2 441.4,435.6 445.9,433.9 450.4,432.7 454.8,431.5 459.3,430.6 463.8,429.8 468.3,429.2 472.7,429.0 477.2,428.9 481.7,428.8 486.1,428.5 490.6,428.5 495.1,428.4 499.5,428.4 504.0,428.4 508.5,428.2 513.0,428.0 517.4,427.6 521.9,427.2 526.4,426.8 530.8,427.0 535.3,427.6 539.8,428.7 544.3,429.9 548.7,431.6 553.2,433.1 557.7,434.9 562.1,437.0 566.6,439.0 571.1,441.2 575.5,443.3 580.0,445.8 584.5,448.6 589.0,451.3 593.4,454.1 597.9,456.2" fill="none" stroke="#e05555" stroke-width="1.5" stroke-linejoin="round" stroke-linecap="round" />
<polyline points="-1.2,422.4 3.3,421.6 7.8,423.6 12.2,425.5 16.7,427.4 21.2,431.0 25.7,432.5 30.1,433.2 34.6,432.6 39.1,431.2 43.5,429.6 48.0,428.2 52.5,427.1 56.9,426.8 61.4,424.6 65.9,423.2 70.4,421.9 74.8,420.7 79.3,420.2 83.8,419.5 88.2,419.2 92.7,418.7 97.2,419.6 101.7,420.4 106.1,421.5 110.6,421.3 115.1,422.6 119.5,422.5 124.0,421.7 128.5,421.5 133.0,420.8 137.4,419.4 141.9,419.5 146.4,419.1 150.8,419.0 155.3,418.7 159.8,418.8 164.2,419.1 168.7,420.6 173.2,421.8 177.7,422.8 182.1,423.5 186.6,423.9 191.1,424.8 195.5,427.8 200.0,429.8 204.5,431.7 209.0,431.8 213.4,428.9 217.9,425.7 222.4,422.9 226.8,420.7 231.3,419.4 235.8,418.6 240.2,418.9 244.7,421.0 249.2,422.3 253.7,422.9 258.1,423.6 262.6,423.6 267.1,423.2 271.5,422.7 276.0,421.8 280.5,421.6 285.0,421.0 289.4,420.3 293.9,419.9 298.4,419.0 302.8,418.7 307.3,418.3 311.8,419.0 316.2,420.0 320.7,420.0 325.2,420.9 329.7,421.7 334.1,422.0 338.6,422.9 343.1,427.4 347.5,431.1 352.0,432.8 356.5,433.2 361.0,432.1 365.4,431.4 369.9,432.3 374.4,434.3 378.8,436.4 383.3,438.3 387.8,438.2 392.3,437.4 396.7,438.2 401.2,438.5 405.7,440.6 410.1,442.0 414.6,442.9 419.1,441.3 423.5,440.2 428.0,438.0 432.5,435.2 437.0,432.2 441.4,429.2 445.9,427.3 450.4,427.7 454.8,427.0 459.3,427.1 463.8,426.6 468.3,426.9 472.7,428.2 477.2,428.4 481.7,428.2 486.1,427.6 490.6,428.4 495.1,428.2 499.5,428.2 504.0,428.5 508.5,427.6 513.0,426.9 517.4,426.1 521.9,425.4 526.4,425.4 530.8,427.7 535.3,430.2 539.8,432.8 544.3,434.9 548.7,438.4 553.2,439.2 557.7,442.0 562.1,445.6 566.6,446.9 571.1,450.0 575.5,451.5 580.0,455.8 584.5,459.8 589.0,462.1 593.4,465.2 597.9,464.8" fill="none" stroke="#3a3ae0" stroke-width="2" stroke-linejoin="round" stroke-linecap="round" />
</g>
<line x1="608.5" y1="16" x2="608.5" y2="466.8" stroke="#94a4b6" stroke-width="0.9"/>
<line x1="0.7" y1="16" x2="0.7" y2="466.8" stroke="#c6d3e0" stroke-width="1.4"/>
<line x1="0" y1="287.5" x2="608.5" y2="287.5" stroke="#b9c4cf" stroke-width="1"/>
<line x1="0" y1="348.3" x2="613.5" y2="348.3" stroke="#aebccb" stroke-width="1"/>
<line x1="0" y1="407.4" x2="613.5" y2="407.4" stroke="#aebccb" stroke-width="1"/>
<line x1="0" y1="466.8" x2="608.5" y2="466.8" stroke="#c3cfdb" stroke-width="1"/>
<rect x="0" y="16.2" width="41" height="14.100000000000001" fill="#e7edf3" stroke="#aab6c2" stroke-width="0.9"/><rect x="2" y="20.0" width="3.5" height="7.6" fill="#4cc24c"/><rect x="5.5" y="20.0" width="3.5" height="7.6" fill="#dd5c5c"/><text x="12.5" y="26.4" font-family="Liberation Sans, sans-serif" font-weight="bold" font-size="9px" fill="#1b2a44" text-anchor="start" textLength="26.8" lengthAdjust="spacingAndGlyphs">Precio</text>
<rect x="41" y="16.2" width="53" height="14.100000000000001" fill="#e7edf3" stroke="#aab6c2" stroke-width="0.9"/><rect x="44.5" y="20.0" width="7.3" height="7.6" fill="#3377ff"/><text x="55.6" y="26.4" font-family="Liberation Sans, sans-serif" font-weight="bold" font-size="9px" fill="#1b2a44" text-anchor="start" textLength="36.6" lengthAdjust="spacingAndGlyphs">SMA (20)</text>
<rect x="94" y="16.2" width="54" height="14.100000000000001" fill="#e7edf3" stroke="#aab6c2" stroke-width="0.9"/><rect x="97.5" y="20.0" width="7.3" height="7.6" fill="#ff33dd"/><text x="109.5" y="26.4" font-family="Liberation Sans, sans-serif" font-weight="bold" font-size="9px" fill="#1b2a44" text-anchor="start" textLength="35.9" lengthAdjust="spacingAndGlyphs">SMA (30)</text>
<rect x="148" y="16.2" width="52.69999999999999" height="14.100000000000001" fill="#e7edf3" stroke="#aab6c2" stroke-width="0.9"/><rect x="151.5" y="20.0" width="7.3" height="7.6" fill="#d6cc00"/><text x="161.6" y="26.4" font-family="Liberation Sans, sans-serif" font-weight="bold" font-size="9px" fill="#1b2a44" text-anchor="start" textLength="36.9" lengthAdjust="spacingAndGlyphs">SMA (50)</text>
<rect x="200.7" y="16.2" width="57.900000000000034" height="14.100000000000001" fill="#e7edf3" stroke="#aab6c2" stroke-width="0.9"/><rect x="204.2" y="20.0" width="7.3" height="7.6" fill="#0000dd"/><text x="215.1" y="26.4" font-family="Liberation Sans, sans-serif" font-weight="bold" font-size="9px" fill="#1b2a44" text-anchor="start" textLength="41.0" lengthAdjust="spacingAndGlyphs">SMA (130)</text>
<rect x="258.6" y="16.2" width="57.0" height="14.100000000000001" fill="#e7edf3" stroke="#aab6c2" stroke-width="0.9"/><rect x="262.1" y="20.0" width="7.3" height="7.6" fill="#dd3300"/><text x="272.7" y="26.4" font-family="Liberation Sans, sans-serif" font-weight="bold" font-size="9px" fill="#1b2a44" text-anchor="start" textLength="40.7" lengthAdjust="spacingAndGlyphs">SMA (200)</text>
<rect x="0" y="287.5" width="53.7" height="13.600000000000023" fill="#e7edf3" stroke="#aab6c2" stroke-width="0.9"/><rect x="2" y="291.3" width="3.5" height="7.6" fill="#4cc24c"/><rect x="5.5" y="291.3" width="3.5" height="7.6" fill="#dd5c5c"/><text x="12.7" y="297.7" font-family="Liberation Sans, sans-serif" font-weight="bold" font-size="9px" fill="#1b2a44" text-anchor="start" textLength="38.0" lengthAdjust="spacingAndGlyphs">Volumen</text>
<rect x="53.7" y="287.5" width="52.89999999999999" height="13.600000000000023" fill="#e7edf3" stroke="#aab6c2" stroke-width="0.9"/><rect x="57.2" y="291.3" width="7.3" height="7.6" fill="#111"/><text x="68.0" y="297.7" font-family="Liberation Sans, sans-serif" font-weight="bold" font-size="9px" fill="#1b2a44" text-anchor="start" textLength="35.8" lengthAdjust="spacingAndGlyphs">SMA (20)</text>
<rect x="0" y="348.6" width="95.4" height="12.099999999999966" fill="#e7edf3" stroke="#aab6c2" stroke-width="0.9"/><rect x="2" y="352.40000000000003" width="3.5" height="7.6" fill="#111"/><rect x="5.5" y="352.40000000000003" width="3.5" height="7.6" fill="#dd5c5c"/><text x="12.7" y="357.9" font-family="Liberation Sans, sans-serif" font-weight="bold" font-size="9px" fill="#1b2a44" text-anchor="start" textLength="79.9" lengthAdjust="spacingAndGlyphs">Estocástico (14 3 5)</text>
<rect x="0" y="407.4" width="76.6" height="12.5" fill="#e7edf3" stroke="#aab6c2" stroke-width="0.9"/><rect x="2" y="411.2" width="2.4" height="7.6" fill="#4cc24c"/><rect x="4.4" y="411.2" width="2.4" height="7.6" fill="#dd5c5c"/><rect x="6.8" y="411.2" width="2.3" height="7.6" fill="#3344dd"/><text x="12.6" y="417.0" font-family="Liberation Sans, sans-serif" font-weight="bold" font-size="9px" fill="#1b2a44" text-anchor="start" textLength="61.2" lengthAdjust="spacingAndGlyphs">MACD (12 26 9)</text>
<text x="18.5" y="12.3" font-family="Liberation Sans, sans-serif" font-weight="bold" font-size="9px" fill="#16233d" text-anchor="start" textLength="238.0" lengthAdjust="spacingAndGlyphs">S&amp;P500 Index Diario 5.638,94 +2,13 % 14 mar 2025 20:59:59</text>
<text x="547.0" y="12.5" font-family="Liberation Sans, sans-serif" font-weight="bold" font-size="9px" fill="#16233d" text-anchor="start" textLength="100.4" lengthAdjust="spacingAndGlyphs">www.ProRealTime.com</text>
<g stroke="#8cc4f4" stroke-width="1"><line x1="4.6" y1="7.5" x2="4.6" y2="15"/><line x1="8.5" y1="5.8" x2="8.5" y2="12.5"/><line x1="12.3" y1="3" x2="12.3" y2="10.2"/></g><g fill="#8cc4f4"><rect x="3.6" y="9" width="2" height="4.2"/><rect x="7.5" y="7" width="2" height="3.8"/><rect x="11.3" y="4.3" width="2" height="4"/></g>
<line x1="608.5" y1="24.1" x2="611.7" y2="24.1" stroke="#8fa3b8" stroke-width="0.9"/>
<text x="613.6" y="27.3" font-family="Liberation Sans, sans-serif" font-weight="bold" font-size="9px" fill="#1b2433" text-anchor="start" textLength="20.4" lengthAdjust="spacingAndGlyphs">6.200</text>
<line x1="608.5" y1="56.1" x2="611.7" y2="56.1" stroke="#8fa3b8" stroke-width="0.9"/>
<text x="613.6" y="59.3" font-family="Liberation Sans, sans-serif" font-weight="bold" font-size="9px" fill="#1b2433" text-anchor="start" textLength="20.4" lengthAdjust="spacingAndGlyphs">6.100</text>
<line x1="608.5" y1="88.1" x2="611.7" y2="88.1" stroke="#8fa3b8" stroke-width="0.9"/>
<text x="613.6" y="91.3" font-family="Liberation Sans, sans-serif" font-weight="bold" font-size="9px" fill="#1b2433" text-anchor="start" textLength="20.4" lengthAdjust="spacingAndGlyphs">6.000</text>
<line x1="608.5" y1="152.0" x2="611.7" y2="152.0" stroke="#8fa3b8" stroke-width="0.9"/>
<text x="613.6" y="155.2" font-family="Liberation Sans, sans-serif" font-weight="bold" font-size="9px" fill="#1b2433" text-anchor="start" textLength="20.4" lengthAdjust="spacingAndGlyphs">5.800</text>
<line x1="608.5" y1="184.0" x2="611.7" y2="184.0" stroke="#8fa3b8" stroke-width="0.9"/>
<text x="613.6" y="187.2" font-family="Liberation Sans, sans-serif" font-weight="bold" font-size="9px" fill="#1b2433" text-anchor="start" textLength="20.4" lengthAdjust="spacingAndGlyphs">5.700</text>
<line x1="608.5" y1="216.0" x2="611.7" y2="216.0" stroke="#8fa3b8" stroke-width="0.9"/>
<text x="613.6" y="219.2" font-family="Liberation Sans, sans-serif" font-weight="bold" font-size="9px" fill="#1b2433" text-anchor="start" textLength="20.4" lengthAdjust="spacingAndGlyphs">5.600</text>
<line x1="608.5" y1="248.0" x2="611.7" y2="248.0" stroke="#8fa3b8" stroke-width="0.9"/>
<text x="613.6" y="251.2" font-family="Liberation Sans, sans-serif" font-weight="bold" font-size="9px" fill="#1b2433" text-anchor="start" textLength="20.4" lengthAdjust="spacingAndGlyphs">5.500</text>
<line x1="608.5" y1="280.0" x2="611.7" y2="280.0" stroke="#8fa3b8" stroke-width="0.9"/>
<text x="613.6" y="283.2" font-family="Liberation Sans, sans-serif" font-weight="bold" font-size="9px" fill="#1b2433" text-anchor="start" textLength="20.4" lengthAdjust="spacingAndGlyphs">5.400</text>
<line x1="608.5" y1="106.4" x2="611.7" y2="106.4" stroke="#c9c322" stroke-width="0.9"/><rect x="612.8" y="98.5" width="34.80000000000007" height="9.2" fill="#f5f8fb" stroke="#a9b5c2" stroke-width="0.9"/><text x="614.4" y="106.4" font-family="Liberation Sans, sans-serif" font-weight="bold" font-size="9px" fill="#c9c322" text-anchor="start" textLength="31.7" lengthAdjust="spacingAndGlyphs">5.942,65</text>
<line x1="608.5" y1="112.6" x2="611.7" y2="112.6" stroke="#ee22cc" stroke-width="0.9"/><rect x="612.8" y="107.7" width="34.80000000000007" height="9.2" fill="#f5f8fb" stroke="#a9b5c2" stroke-width="0.9"/><text x="614.4" y="115.6" font-family="Liberation Sans, sans-serif" font-weight="bold" font-size="9px" fill="#ee22cc" text-anchor="start" textLength="31.7" lengthAdjust="spacingAndGlyphs">5.923,37</text>
<line x1="608.5" y1="124.5" x2="611.7" y2="124.5" stroke="#2222aa" stroke-width="0.9"/><rect x="612.8" y="120.3" width="34.80000000000007" height="9.2" fill="#f5f8fb" stroke="#a9b5c2" stroke-width="0.9"/><text x="614.4" y="128.2" font-family="Liberation Sans, sans-serif" font-weight="bold" font-size="9px" fill="#2222aa" text-anchor="start" textLength="31.7" lengthAdjust="spacingAndGlyphs">5.885,96</text>
<line x1="608.5" y1="133.6" x2="611.7" y2="133.6" stroke="#3377ff" stroke-width="0.9"/><rect x="612.8" y="129.2" width="34.80000000000007" height="9.2" fill="#f5f8fb" stroke="#a9b5c2" stroke-width="0.9"/><text x="614.4" y="137.1" font-family="Liberation Sans, sans-serif" font-weight="bold" font-size="9px" fill="#3377ff" text-anchor="start" textLength="31.7" lengthAdjust="spacingAndGlyphs">5.857,76</text>
<line x1="608.5" y1="171.1" x2="611.7" y2="171.1" stroke="#dd4422" stroke-width="0.9"/><rect x="612.8" y="166.4" width="34.80000000000007" height="9.2" fill="#f5f8fb" stroke="#a9b5c2" stroke-width="0.9"/><text x="614.4" y="174.3" font-family="Liberation Sans, sans-serif" font-weight="bold" font-size="9px" fill="#dd4422" text-anchor="start" textLength="31.7" lengthAdjust="spacingAndGlyphs">5.740,29</text>
<line x1="608.5" y1="203.6" x2="611.7" y2="203.6" stroke="#111" stroke-width="0.9"/><rect x="612.8" y="199.0" width="34.80000000000007" height="9.2" fill="#f2d21c" stroke="#d0b000" stroke-width="0.9"/><text x="614.4" y="206.9" font-family="Liberation Sans, sans-serif" font-weight="bold" font-size="9px" fill="#111" text-anchor="start" textLength="31.7" lengthAdjust="spacingAndGlyphs">5.638,94</text>
<line x1="608.5" y1="306.6" x2="611.7" y2="306.6" stroke="#8fa3b8" stroke-width="0.9"/>
<text x="613.6" y="309.8" font-family="Liberation Sans, sans-serif" font-weight="bold" font-size="9px" fill="#1b2433" text-anchor="start" textLength="21.3" lengthAdjust="spacingAndGlyphs">400M</text>
<line x1="608.5" y1="327.4" x2="611.7" y2="327.4" stroke="#8fa3b8" stroke-width="0.9"/>
<text x="613.6" y="330.6" font-family="Liberation Sans, sans-serif" font-weight="bold" font-size="9px" fill="#1b2433" text-anchor="start" textLength="21.3" lengthAdjust="spacingAndGlyphs">200M</text>
<text x="613.6" y="346.2" font-family="Liberation Sans, sans-serif" font-weight="bold" font-size="9px" fill="#1b2433" text-anchor="start" textLength="4.8" lengthAdjust="spacingAndGlyphs">0</text>
<line x1="608.5" y1="312.0" x2="611.7" y2="312.0" stroke="#333" stroke-width="0.9"/><rect x="612.8" y="304.2" width="23.0" height="9.2" fill="#f5f8fb" stroke="#a9b5c2" stroke-width="0.9"/><text x="614.4" y="312.1" font-family="Liberation Sans, sans-serif" font-weight="bold" font-size="9px" fill="#333a48" text-anchor="start" textLength="20.4" lengthAdjust="spacingAndGlyphs">348M</text>
<line x1="608.5" y1="316.9" x2="611.7" y2="316.9" stroke="#66dd88" stroke-width="0.9"/><rect x="612.8" y="315.0" width="23.0" height="9.2" fill="#f5f8fb" stroke="#a9b5c2" stroke-width="0.9"/><text x="614.4" y="322.9" font-family="Liberation Sans, sans-serif" font-weight="bold" font-size="9px" fill="#66dd88" text-anchor="start" textLength="20.4" lengthAdjust="spacingAndGlyphs">301M</text>
<line x1="608.5" y1="359.7" x2="611.7" y2="359.7" stroke="#8fa3b8" stroke-width="0.9"/>
<text x="613.6" y="362.4" font-family="Liberation Sans, sans-serif" font-weight="bold" font-size="9px" fill="#1b2433" text-anchor="start" textLength="15.5" lengthAdjust="spacingAndGlyphs">100</text>
<line x1="608.5" y1="381.2" x2="611.7" y2="381.2" stroke="#8fa3b8" stroke-width="0.9"/>
<text x="613.6" y="383.9" font-family="Liberation Sans, sans-serif" font-weight="bold" font-size="9px" fill="#1b2433" text-anchor="start" textLength="9.2" lengthAdjust="spacingAndGlyphs">50</text>
<line x1="608.5" y1="399.2" x2="611.7" y2="399.2" stroke="#222" stroke-width="0.9"/><rect x="612.8" y="388.4" width="26.800000000000068" height="9.2" fill="#f5f8fb" stroke="#a9b5c2" stroke-width="0.9"/><text x="614.4" y="396.3" font-family="Liberation Sans, sans-serif" font-weight="bold" font-size="9px" fill="#222a38" text-anchor="start" textLength="24.9" lengthAdjust="spacingAndGlyphs">13,934</text>
<line x1="608.5" y1="400.6" x2="611.7" y2="400.6" stroke="#e06060" stroke-width="0.9"/><rect x="612.8" y="396.2" width="26.800000000000068" height="9.8" fill="#f5f8fb" stroke="#a9b5c2" stroke-width="0.9"/><text x="614.4" y="404.4" font-family="Liberation Sans, sans-serif" font-weight="bold" font-size="9px" fill="#e06060" text-anchor="start" textLength="24.9" lengthAdjust="spacingAndGlyphs">11,071</text>
<text x="613.6" y="415.2" font-family="Liberation Sans, sans-serif" font-weight="bold" font-size="9px" fill="#1b2433" text-anchor="start" textLength="15.5" lengthAdjust="spacingAndGlyphs">100</text>
<line x1="608.5" y1="421.6" x2="611.7" y2="421.6" stroke="#8fa3b8" stroke-width="0.9"/>
<text x="613.6" y="423.4" font-family="Liberation Sans, sans-serif" font-weight="bold" font-size="9px" fill="#1b2433" text-anchor="start" textLength="9.2" lengthAdjust="spacingAndGlyphs">50</text>
<line x1="608.5" y1="434.6" x2="611.7" y2="434.6" stroke="#8fa3b8" stroke-width="0.9"/>
<text x="613.6" y="436.2" font-family="Liberation Sans, sans-serif" font-weight="bold" font-size="9px" fill="#1b2433" text-anchor="start" textLength="4.8" lengthAdjust="spacingAndGlyphs">0</text>
<line x1="608.5" y1="443.2" x2="611.7" y2="443.2" stroke="#e06060" stroke-width="0.9"/><rect x="612.8" y="438.0" width="30.200000000000045" height="9.2" fill="#f5f8fb" stroke="#a9b5c2" stroke-width="0.9"/><text x="614.4" y="445.9" font-family="Liberation Sans, sans-serif" font-weight="bold" font-size="9px" fill="#e06060" text-anchor="start" textLength="27.7" lengthAdjust="spacingAndGlyphs">-32,920</text>
<line x1="608.5" y1="456.2" x2="611.7" y2="456.2" stroke="#e06060" stroke-width="0.9"/>
<rect x="612.8" y="447.6" width="30.2" height="10.5" fill="#f5f8fb" stroke="#a9b5c2" stroke-width="0.9"/>
<text x="614.4" y="457.5" font-family="Liberation Sans, sans-serif" font-weight="bold" font-size="9px" fill="#e06060" text-anchor="start" textLength="27.7" lengthAdjust="spacingAndGlyphs">-82,824</text>
<line x1="608.5" y1="464.8" x2="611.7" y2="464.8" stroke="#3333cc" stroke-width="0.9"/><rect x="612.8" y="456.2" width="30.200000000000045" height="9.2" fill="#f5f8fb" stroke="#a9b5c2" stroke-width="0.9"/><text x="614.4" y="464.1" font-family="Liberation Sans, sans-serif" font-weight="bold" font-size="9px" fill="#3333cc" text-anchor="start" textLength="27.7" lengthAdjust="spacingAndGlyphs">-115,74</text>
<rect x="593.5" y="276.2" width="9" height="8.2" fill="#f6f6f8" fill-opacity="0.75" stroke="#a9b3bf" stroke-width="0.9"/><line x1="598" y1="276.5" x2="598" y2="284" stroke="#a9b3bf" stroke-width="0.9"/><line x1="598" y1="279" x2="598" y2="283" stroke="#778" stroke-width="0.9"/>
<line x1="21.2" y1="466.8" x2="21.2" y2="469.3" stroke="#9fb0c2" stroke-width="1"/>
<text x="20.7" y="477.6" font-family="Liberation Sans, sans-serif" font-weight="bold" font-size="9px" fill="#1b2433" text-anchor="middle" textLength="9.1" lengthAdjust="spacingAndGlyphs">06</text>
<line x1="43.5" y1="466.8" x2="43.5" y2="469.3" stroke="#9fb0c2" stroke-width="1"/>
<text x="43.0" y="477.6" font-family="Liberation Sans, sans-serif" font-weight="bold" font-size="9px" fill="#1b2433" text-anchor="middle" textLength="9.1" lengthAdjust="spacingAndGlyphs">13</text>
<line x1="65.9" y1="466.8" x2="65.9" y2="469.3" stroke="#9fb0c2" stroke-width="1"/>
<text x="65.4" y="477.6" font-family="Liberation Sans, sans-serif" font-weight="bold" font-size="9px" fill="#1b2433" text-anchor="middle" textLength="9.1" lengthAdjust="spacingAndGlyphs">20</text>
<line x1="97.2" y1="466.8" x2="97.2" y2="469.3" stroke="#9fb0c2" stroke-width="1"/>
<text x="96.7" y="477.6" font-family="Liberation Sans, sans-serif" font-weight="bold" font-size="9px" fill="#1b2433" text-anchor="middle">oct</text>
<line x1="133.0" y1="466.8" x2="133.0" y2="469.3" stroke="#9fb0c2" stroke-width="1"/>
<text x="132.5" y="477.6" font-family="Liberation Sans, sans-serif" font-weight="bold" font-size="9px" fill="#1b2433" text-anchor="middle" textLength="9.1" lengthAdjust="spacingAndGlyphs">11</text>
<line x1="155.3" y1="466.8" x2="155.3" y2="469.3" stroke="#9fb0c2" stroke-width="1"/>
<text x="154.8" y="477.6" font-family="Liberation Sans, sans-serif" font-weight="bold" font-size="9px" fill="#1b2433" text-anchor="middle" textLength="9.1" lengthAdjust="spacingAndGlyphs">18</text>
<line x1="177.7" y1="466.8" x2="177.7" y2="469.3" stroke="#9fb0c2" stroke-width="1"/>
<text x="177.2" y="477.6" font-family="Liberation Sans, sans-serif" font-weight="bold" font-size="9px" fill="#1b2433" text-anchor="middle" textLength="9.1" lengthAdjust="spacingAndGlyphs">25</text>
<line x1="200.0" y1="466.8" x2="200.0" y2="469.3" stroke="#9fb0c2" stroke-width="1"/>
<text x="199.5" y="477.6" font-family="Liberation Sans, sans-serif" font-weight="bold" font-size="9px" fill="#1b2433" text-anchor="middle">nov</text>
<line x1="222.4" y1="466.8" x2="222.4" y2="469.3" stroke="#9fb0c2" stroke-width="1"/>
<text x="221.9" y="477.6" font-family="Liberation Sans, sans-serif" font-weight="bold" font-size="9px" fill="#1b2433" text-anchor="middle" textLength="9.1" lengthAdjust="spacingAndGlyphs">08</text>
<line x1="244.7" y1="466.8" x2="244.7" y2="469.3" stroke="#9fb0c2" stroke-width="1"/>
<text x="244.2" y="477.6" font-family="Liberation Sans, sans-serif" font-weight="bold" font-size="9px" fill="#1b2433" text-anchor="middle" textLength="9.1" lengthAdjust="spacingAndGlyphs">15</text>
<line x1="267.1" y1="466.8" x2="267.1" y2="469.3" stroke="#9fb0c2" stroke-width="1"/>
<text x="266.6" y="477.6" font-family="Liberation Sans, sans-serif" font-weight="bold" font-size="9px" fill="#1b2433" text-anchor="middle" textLength="9.1" lengthAdjust="spacingAndGlyphs">22</text>
<line x1="289.4" y1="466.8" x2="289.4" y2="469.3" stroke="#9fb0c2" stroke-width="1"/>
<text x="288.9" y="477.6" font-family="Liberation Sans, sans-serif" font-weight="bold" font-size="9px" fill="#1b2433" text-anchor="middle">dic</text>
<line x1="311.8" y1="466.8" x2="311.8" y2="469.3" stroke="#9fb0c2" stroke-width="1"/>
<text x="311.3" y="477.6" font-family="Liberation Sans, sans-serif" font-weight="bold" font-size="9px" fill="#1b2433" text-anchor="middle" textLength="9.1" lengthAdjust="spacingAndGlyphs">09</text>
<line x1="334.1" y1="466.8" x2="334.1" y2="469.3" stroke="#9fb0c2" stroke-width="1"/>
<text x="333.6" y="477.6" font-family="Liberation Sans, sans-serif" font-weight="bold" font-size="9px" fill="#1b2433" text-anchor="middle" textLength="9.1" lengthAdjust="spacingAndGlyphs">16</text>
<line x1="356.5" y1="466.8" x2="356.5" y2="469.3" stroke="#9fb0c2" stroke-width="1"/>
<text x="356.0" y="477.6" font-family="Liberation Sans, sans-serif" font-weight="bold" font-size="9px" fill="#1b2433" text-anchor="middle" textLength="9.1" lengthAdjust="spacingAndGlyphs">23</text>
<line x1="383.3" y1="466.8" x2="383.3" y2="469.3" stroke="#9fb0c2" stroke-width="1"/>
<text x="382.8" y="477.6" font-family="Liberation Sans, sans-serif" font-weight="bold" font-size="9px" fill="#1b2433" text-anchor="middle" textLength="21.5" lengthAdjust="spacingAndGlyphs">2025</text>
<line x1="423.5" y1="466.8" x2="423.5" y2="469.3" stroke="#9fb0c2" stroke-width="1"/>
<text x="423.0" y="477.6" font-family="Liberation Sans, sans-serif" font-weight="bold" font-size="9px" fill="#1b2433" text-anchor="middle" textLength="9.1" lengthAdjust="spacingAndGlyphs">16</text>
<line x1="445.9" y1="466.8" x2="445.9" y2="469.3" stroke="#9fb0c2" stroke-width="1"/>
<text x="445.4" y="477.6" font-family="Liberation Sans, sans-serif" font-weight="bold" font-size="9px" fill="#1b2433" text-anchor="middle" textLength="9.1" lengthAdjust="spacingAndGlyphs">24</text>
<line x1="472.7" y1="466.8" x2="472.7" y2="469.3" stroke="#9fb0c2" stroke-width="1"/>
<text x="472.2" y="477.6" font-family="Liberation Sans, sans-serif" font-weight="bold" font-size="9px" fill="#1b2433" text-anchor="middle">feb</text>
<line x1="490.6" y1="466.8" x2="490.6" y2="469.3" stroke="#9fb0c2" stroke-width="1"/>
<text x="490.1" y="477.6" font-family="Liberation Sans, sans-serif" font-weight="bold" font-size="9px" fill="#1b2433" text-anchor="middle" textLength="9.1" lengthAdjust="spacingAndGlyphs">07</text>
<line x1="513.0" y1="466.8" x2="513.0" y2="469.3" stroke="#9fb0c2" stroke-width="1"/>
<text x="512.5" y="477.6" font-family="Liberation Sans, sans-serif" font-weight="bold" font-size="9px" fill="#1b2433" text-anchor="middle" textLength="9.1" lengthAdjust="spacingAndGlyphs">14</text>
<line x1="535.3" y1="466.8" x2="535.3" y2="469.3" stroke="#9fb0c2" stroke-width="1"/>
<text x="534.8" y="477.6" font-family="Liberation Sans, sans-serif" font-weight="bold" font-size="9px" fill="#1b2433" text-anchor="middle" textLength="9.1" lengthAdjust="spacingAndGlyphs">24</text>
<line x1="557.7" y1="466.8" x2="557.7" y2="469.3" stroke="#9fb0c2" stroke-width="1"/>
<text x="557.2" y="477.6" font-family="Liberation Sans, sans-serif" font-weight="bold" font-size="9px" fill="#1b2433" text-anchor="middle">mar</text>
<line x1="580.0" y1="466.8" x2="580.0" y2="469.3" stroke="#9fb0c2" stroke-width="1"/>
<text x="579.5" y="477.6" font-family="Liberation Sans, sans-serif" font-weight="bold" font-size="9px" fill="#1b2433" text-anchor="middle" textLength="9.1" lengthAdjust="spacingAndGlyphs">10</text>
<line x1="602.4" y1="466.8" x2="602.4" y2="469.3" stroke="#9fb0c2" stroke-width="1"/>
<text x="601.9" y="477.6" font-family="Liberation Sans, sans-serif" font-weight="bold" font-size="9px" fill="#1b2433" text-anchor="middle" textLength="9.1" lengthAdjust="spacingAndGlyphs">17</text></svg></body></html>
